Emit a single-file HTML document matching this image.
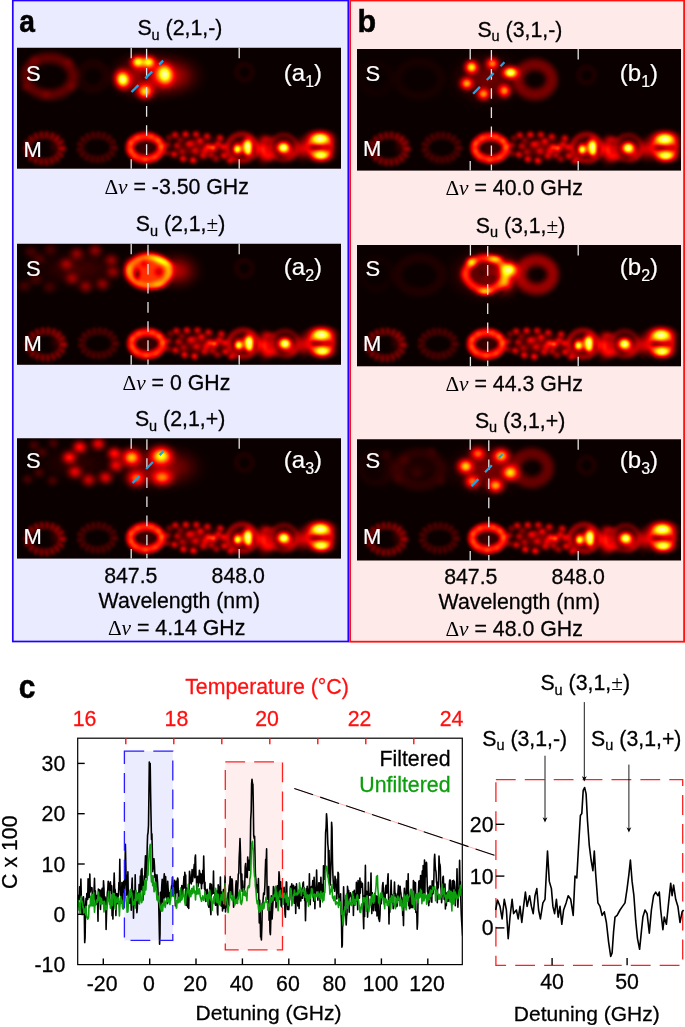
<!DOCTYPE html>
<html><head><meta charset="utf-8"><title>fig</title>
<style>html,body{margin:0;padding:0;background:#fff;}svg{display:block;will-change:transform;}text{font-family:"Liberation Sans",sans-serif;stroke:#000;stroke-width:.28px;}text[fill="#fff"]{stroke:#fff;stroke-width:.2px}text[fill="#ff1010"]{stroke:#ff1010}text[fill="#0c9e0c"]{stroke:#0c9e0c}text[font-weight="bold"]{stroke-width:.5px}.se{font-family:"Liberation Serif",serif;stroke:none;}</style>
</head><body>
<svg width="685" height="1027" viewBox="0 0 685 1027">
<defs>
<radialGradient id="g"><stop offset="0" stop-color="#fff" stop-opacity="1"/><stop offset=".2" stop-color="#fff" stop-opacity=".85"/><stop offset=".4" stop-color="#fff" stop-opacity=".53"/><stop offset=".6" stop-color="#fff" stop-opacity=".24"/><stop offset=".8" stop-color="#fff" stop-opacity=".07"/><stop offset="1" stop-color="#fff" stop-opacity="0"/></radialGradient>
<radialGradient id="k"><stop offset="0" stop-color="#000" stop-opacity="1"/><stop offset=".2" stop-color="#000" stop-opacity=".85"/><stop offset=".4" stop-color="#000" stop-opacity=".53"/><stop offset=".6" stop-color="#000" stop-opacity=".24"/><stop offset=".8" stop-color="#000" stop-opacity=".07"/><stop offset="1" stop-color="#000" stop-opacity="0"/></radialGradient>
<filter id="hot" x="0" y="0" width="324" height="122" filterUnits="userSpaceOnUse" color-interpolation-filters="sRGB"><feGaussianBlur stdDeviation="0.9"/><feComponentTransfer><feFuncR type="table" tableValues="0.042 0.107 0.173 0.239 0.304 0.370 0.435 0.501 0.567 0.632 0.698 0.764 0.829 0.895 0.961 1.000 1.000 1.000 1.000 1.000 1.000 1.000 1.000 1.000 1.000 1.000 1.000 1.000 1.000 1.000 1.000 1.000 1.000 1.000 1.000 1.000 1.000 1.000 1.000 1.000 1.000"/><feFuncG type="table" tableValues="0.000 0.000 0.000 0.000 0.000 0.000 0.000 0.000 0.000 0.000 0.000 0.000 0.000 0.000 0.000 0.026 0.092 0.157 0.223 0.289 0.354 0.420 0.486 0.551 0.617 0.682 0.748 0.814 0.879 0.945 1.000 1.000 1.000 1.000 1.000 1.000 1.000 1.000 1.000 1.000 1.000"/><feFuncB type="table" tableValues="0.000 0.000 0.000 0.000 0.000 0.000 0.000 0.000 0.000 0.000 0.000 0.000 0.000 0.000 0.000 0.000 0.000 0.000 0.000 0.000 0.000 0.000 0.000 0.000 0.000 0.000 0.000 0.000 0.000 0.000 0.016 0.114 0.213 0.311 0.409 0.508 0.606 0.705 0.803 0.902 1.000"/></feComponentTransfer></filter>
<filter id="b1" x="-50%" y="-50%" width="200%" height="200%" color-interpolation-filters="sRGB"><feGaussianBlur stdDeviation="0.8"/></filter>
<filter id="b2" x="-50%" y="-50%" width="200%" height="200%" color-interpolation-filters="sRGB"><feGaussianBlur stdDeviation="1.5"/></filter>
<filter id="b3" x="-50%" y="-50%" width="200%" height="200%" color-interpolation-filters="sRGB"><feGaussianBlur stdDeviation="2.5"/></filter>
<filter id="b4" x="-50%" y="-50%" width="200%" height="200%" color-interpolation-filters="sRGB"><feGaussianBlur stdDeviation="4"/></filter>
<clipPath id="ic"><rect x="0" y="0" width="324" height="122"/></clipPath>
</defs>
<rect x="12.8" y="0.5" width="335.5" height="641" fill="#ebebff" stroke="#2200ff" stroke-width="1.7"/>
<rect x="350.1" y="0.5" width="334" height="641.2" fill="#ffeaea" stroke="#ff1212" stroke-width="1.8"/>
<g transform="translate(17.0 47.8)">
<g clip-path="url(#ic)"><g filter="url(#hot)"><rect x="-5" y="-5" width="334" height="132" fill="#000"/>
<ellipse cx="32.5" cy="28.5" rx="23.5" ry="18.5" fill="none" stroke="#fff" stroke-width="10.0" opacity="0.13" filter="url(#b3)"/>
<ellipse cx="8.0" cy="40.0" rx="8.8" ry="7.7" fill="url(#g)" opacity="0.06"/>
<ellipse cx="29.0" cy="47.0" rx="8.8" ry="7.7" fill="url(#g)" opacity="0.06"/>
<ellipse cx="56.0" cy="39.0" rx="8.8" ry="7.7" fill="url(#g)" opacity="0.06"/>
<ellipse cx="52.0" cy="14.0" rx="8.8" ry="7.7" fill="url(#g)" opacity="0.06"/>
<ellipse cx="17.0" cy="12.0" rx="8.8" ry="7.7" fill="url(#g)" opacity="0.06"/>
<ellipse cx="75.9" cy="28.5" rx="13.0" ry="13.0" fill="none" stroke="#fff" stroke-width="8.0" opacity="0.03" filter="url(#b3)"/>
<ellipse cx="132.0" cy="28.0" rx="45.9" ry="29.7" fill="url(#g)" opacity="0.36"/>
<ellipse cx="160.0" cy="28.0" rx="33.6" ry="26.6" fill="url(#g)" opacity="0.18"/>
<ellipse cx="127.0" cy="29.0" rx="15.4" ry="13.2" fill="url(#k)" opacity="0.60"/>
<ellipse cx="121.0" cy="14.1" rx="11.4" ry="10.1" fill="url(#g)" opacity="0.85"/>
<ellipse cx="131.5" cy="14.3" rx="11.9" ry="10.1" fill="url(#g)" opacity="0.82"/>
<ellipse cx="105.7" cy="31.7" rx="12.8" ry="15.0" fill="url(#g)" opacity="0.96" transform="rotate(-15.0 105.7 31.7)"/>
<ellipse cx="147.8" cy="26.6" rx="13.6" ry="17.2" fill="url(#g)" opacity="0.96" transform="rotate(-10.0 147.8 26.6)"/>
<ellipse cx="128.0" cy="43.8" rx="13.2" ry="11.9" fill="url(#g)" opacity="0.72"/>
<ellipse cx="227.3" cy="24.4" rx="8.0" ry="8.0" fill="none" stroke="#fff" stroke-width="5.0" opacity="0.03" filter="url(#b2)"/>
<g transform="translate(0.1 0)">
<ellipse cx="27.3" cy="100.6" rx="17.3" ry="13.2" fill="none" stroke="#fff" stroke-width="7.0" opacity="0.06" filter="url(#b2)"/>
<ellipse cx="27.3" cy="100.6" rx="17.6" ry="13.4" fill="none" stroke="#fff" stroke-width="7.5" opacity="0.20" filter="url(#b1)" stroke-dasharray="2.12 3.18"/>
<ellipse cx="39.0" cy="97.0" rx="11.0" ry="17.6" fill="url(#g)" opacity="0.07"/>
<ellipse cx="79.9" cy="99.5" rx="16.5" ry="12.0" fill="none" stroke="#fff" stroke-width="7.0" opacity="0.04" filter="url(#b2)"/>
<ellipse cx="79.9" cy="99.5" rx="16.8" ry="12.3" fill="none" stroke="#fff" stroke-width="7.5" opacity="0.11" filter="url(#b1)" stroke-dasharray="2.12 3.18"/>
<ellipse cx="128.5" cy="99.8" rx="15.8" ry="11.4" fill="none" stroke="#fff" stroke-width="8.0" opacity="0.41" filter="url(#b2)"/>
<ellipse cx="128.5" cy="100.0" rx="21.0" ry="15.0" fill="url(#g)" opacity="0.08"/>
<ellipse cx="113.5" cy="95.0" rx="5.3" ry="5.3" fill="url(#g)" opacity="0.16"/>
<ellipse cx="114.0" cy="103.0" rx="5.3" ry="5.3" fill="url(#g)" opacity="0.14"/>
<ellipse cx="141.0" cy="92.5" rx="5.3" ry="5.3" fill="url(#g)" opacity="0.18"/>
<ellipse cx="144.0" cy="99.0" rx="5.3" ry="5.3" fill="url(#g)" opacity="0.20"/>
<ellipse cx="134.0" cy="88.0" rx="5.3" ry="5.3" fill="url(#g)" opacity="0.12"/>
<ellipse cx="128.0" cy="112.0" rx="5.3" ry="5.3" fill="url(#g)" opacity="0.14"/>
<ellipse cx="138.0" cy="110.0" rx="5.3" ry="5.3" fill="url(#g)" opacity="0.10"/>
<ellipse cx="120.0" cy="89.5" rx="5.3" ry="5.3" fill="url(#g)" opacity="0.12"/>
<ellipse cx="117.0" cy="108.0" rx="5.3" ry="5.3" fill="url(#g)" opacity="0.10"/>
<ellipse cx="158.0" cy="87.0" rx="6.2" ry="5.7" fill="url(#g)" opacity="0.36"/>
<ellipse cx="168.5" cy="86.5" rx="6.2" ry="5.7" fill="url(#g)" opacity="0.40"/>
<ellipse cx="179.0" cy="86.5" rx="6.2" ry="5.7" fill="url(#g)" opacity="0.36"/>
<ellipse cx="190.0" cy="88.5" rx="6.2" ry="5.7" fill="url(#g)" opacity="0.36"/>
<ellipse cx="160.0" cy="98.0" rx="6.2" ry="5.7" fill="url(#g)" opacity="0.26"/>
<ellipse cx="172.0" cy="96.0" rx="6.2" ry="5.7" fill="url(#g)" opacity="0.30"/>
<ellipse cx="183.0" cy="93.0" rx="6.2" ry="5.7" fill="url(#g)" opacity="0.34"/>
<ellipse cx="196.0" cy="100.0" rx="6.2" ry="5.7" fill="url(#g)" opacity="0.50"/>
<ellipse cx="157.0" cy="106.5" rx="6.2" ry="5.7" fill="url(#g)" opacity="0.36"/>
<ellipse cx="166.0" cy="111.0" rx="6.2" ry="5.7" fill="url(#g)" opacity="0.41"/>
<ellipse cx="176.0" cy="112.5" rx="6.2" ry="5.7" fill="url(#g)" opacity="0.43"/>
<ellipse cx="186.0" cy="108.0" rx="6.2" ry="5.7" fill="url(#g)" opacity="0.30"/>
<ellipse cx="203.0" cy="90.0" rx="6.2" ry="5.7" fill="url(#g)" opacity="0.36"/>
<ellipse cx="207.0" cy="108.0" rx="6.2" ry="5.7" fill="url(#g)" opacity="0.36"/>
<ellipse cx="199.0" cy="111.0" rx="6.2" ry="5.7" fill="url(#g)" opacity="0.24"/>
<ellipse cx="150.0" cy="97.0" rx="6.2" ry="5.7" fill="url(#g)" opacity="0.24"/>
<ellipse cx="191.0" cy="99.0" rx="6.2" ry="5.7" fill="url(#g)" opacity="0.36"/>
<ellipse cx="152.0" cy="90.0" rx="6.2" ry="5.7" fill="url(#g)" opacity="0.18"/>
<ellipse cx="165.0" cy="104.0" rx="6.2" ry="5.7" fill="url(#g)" opacity="0.22"/>
<ellipse cx="178.0" cy="103.0" rx="6.2" ry="5.7" fill="url(#g)" opacity="0.24"/>
<ellipse cx="188.0" cy="103.0" rx="6.2" ry="5.7" fill="url(#g)" opacity="0.26"/>
<ellipse cx="201.0" cy="96.0" rx="6.2" ry="5.7" fill="url(#g)" opacity="0.30"/>
<ellipse cx="150.0" cy="105.0" rx="6.2" ry="5.7" fill="url(#g)" opacity="0.18"/>
<ellipse cx="176.0" cy="95.0" rx="6.2" ry="5.7" fill="url(#g)" opacity="0.14"/>
<ellipse cx="163.0" cy="92.0" rx="6.2" ry="5.7" fill="url(#g)" opacity="0.18"/>
<ellipse cx="194.0" cy="107.0" rx="6.2" ry="5.7" fill="url(#g)" opacity="0.24"/>
<ellipse cx="206.0" cy="99.0" rx="6.2" ry="5.7" fill="url(#g)" opacity="0.30"/>
<ellipse cx="180.0" cy="100.0" rx="42.0" ry="18.2" fill="url(#g)" opacity="0.15"/>
<ellipse cx="240.0" cy="101.0" rx="91.0" ry="14.3" fill="url(#g)" opacity="0.14"/>
<ellipse cx="225.0" cy="99.6" rx="14.5" ry="13.5" fill="none" stroke="#fff" stroke-width="5.0" opacity="0.22" filter="url(#b2)"/>
<ellipse cx="225.0" cy="100.0" rx="18.0" ry="16.5" fill="url(#g)" opacity="0.22"/>
<ellipse cx="225.5" cy="92.0" rx="11.0" ry="4.8" fill="url(#k)" opacity="0.40"/>
<ellipse cx="214.5" cy="100.0" rx="4.8" ry="11.0" fill="url(#k)" opacity="0.45"/>
<ellipse cx="236.8" cy="102.0" rx="4.8" ry="11.0" fill="url(#k)" opacity="0.45"/>
<ellipse cx="220.2" cy="101.4" rx="7.0" ry="7.9" fill="url(#g)" opacity="0.90"/>
<ellipse cx="230.6" cy="97.8" rx="8.4" ry="12.3" fill="url(#g)" opacity="1.00"/>
<ellipse cx="231.0" cy="103.5" rx="6.2" ry="7.5" fill="url(#g)" opacity="0.70"/>
<ellipse cx="213.0" cy="113.0" rx="6.6" ry="5.5" fill="url(#g)" opacity="0.35"/>
<ellipse cx="246.0" cy="102.0" rx="11.0" ry="19.8" fill="url(#g)" opacity="0.34"/>
<ellipse cx="252.0" cy="109.0" rx="11.0" ry="8.8" fill="url(#g)" opacity="0.30"/>
<ellipse cx="250.0" cy="91.0" rx="11.0" ry="6.6" fill="url(#g)" opacity="0.22"/>
<ellipse cx="266.5" cy="99.6" rx="13.0" ry="12.5" fill="none" stroke="#fff" stroke-width="5.0" opacity="0.15" filter="url(#b2)"/>
<ellipse cx="266.5" cy="100.0" rx="11.7" ry="11.7" fill="url(#k)" opacity="0.40"/>
<ellipse cx="266.4" cy="99.8" rx="11.4" ry="10.1" fill="url(#g)" opacity="1.00"/>
<ellipse cx="272.0" cy="106.0" rx="13.2" ry="11.0" fill="url(#g)" opacity="0.20"/>
<ellipse cx="302.0" cy="99.5" rx="24.0" ry="19.2" fill="url(#g)" opacity="0.36"/>
<ellipse cx="285.0" cy="101.0" rx="11.0" ry="17.6" fill="url(#g)" opacity="0.24"/>
<ellipse cx="302.6" cy="99.2" rx="12.0" ry="8.0" fill="none" stroke="#fff" stroke-width="5.0" opacity="0.20" filter="url(#b2)"/>
<ellipse cx="300.5" cy="99.4" rx="14.3" ry="4.8" fill="url(#k)" opacity="0.85"/>
<ellipse cx="303.0" cy="90.6" rx="19.4" ry="11.4" fill="url(#g)" opacity="0.97"/>
<ellipse cx="304.0" cy="107.6" rx="16.5" ry="9.2" fill="url(#g)" opacity="0.88"/>
</g>
</g></g>
<rect x="0" y="120.9" width="324" height="2.1" fill="#ebebff"/>
</g>
<line x1="131.2" y1="47.8" x2="131.2" y2="58.3" stroke="#e4e4e4" stroke-width="1.3"/>
<line x1="131.2" y1="159.2" x2="131.2" y2="168.7" stroke="#e4e4e4" stroke-width="1.3"/>
<line x1="239.2" y1="47.8" x2="239.2" y2="58.3" stroke="#e4e4e4" stroke-width="1.3"/>
<line x1="239.2" y1="159.2" x2="239.2" y2="168.7" stroke="#e4e4e4" stroke-width="1.3"/>
<line x1="146.6" y1="48.8" x2="146.6" y2="168.7" stroke="#e4e4e4" stroke-width="1.3" stroke-dasharray="10.6 8.5"/>
<line x1="131.5" y1="92.0" x2="163.1" y2="60.6" stroke="#1aa7ea" stroke-width="2.3" stroke-dasharray="9.7 9.7"/>
<text x="26.0" y="81.1" font-size="22" fill="#fff">S</text>
<text x="23.5" y="157.0" font-size="22" fill="#fff">M</text>
<text x="283.8" y="80.5" font-size="24" fill="#fff">(a<tspan font-size="16" dy="6.2">1</tspan><tspan dy="-6.2">)</tspan></text>
<g transform="translate(17.0 243.8)">
<g clip-path="url(#ic)"><g filter="url(#hot)"><rect x="-5" y="-5" width="334" height="132" fill="#000"/>
<ellipse cx="49.4" cy="20.3" rx="11.4" ry="10.1" fill="url(#g)" opacity="0.20"/>
<ellipse cx="59.8" cy="9.9" rx="11.4" ry="10.1" fill="url(#g)" opacity="0.20"/>
<ellipse cx="78.3" cy="6.7" rx="11.4" ry="10.1" fill="url(#g)" opacity="0.20"/>
<ellipse cx="55.0" cy="34.8" rx="11.4" ry="10.1" fill="url(#g)" opacity="0.20"/>
<ellipse cx="68.7" cy="42.8" rx="11.4" ry="10.1" fill="url(#g)" opacity="0.20"/>
<ellipse cx="85.5" cy="40.4" rx="11.4" ry="10.1" fill="url(#g)" opacity="0.20"/>
<ellipse cx="94.4" cy="16.3" rx="11.4" ry="10.1" fill="url(#g)" opacity="0.20"/>
<ellipse cx="96.0" cy="28.2" rx="11.4" ry="10.1" fill="url(#g)" opacity="0.20"/>
<ellipse cx="18.9" cy="35.6" rx="11.4" ry="10.1" fill="url(#g)" opacity="0.09"/>
<ellipse cx="32.5" cy="43.6" rx="11.4" ry="10.1" fill="url(#g)" opacity="0.09"/>
<ellipse cx="7.6" cy="42.2" rx="11.4" ry="10.1" fill="url(#g)" opacity="0.09"/>
<ellipse cx="14.0" cy="8.0" rx="11.4" ry="10.1" fill="url(#g)" opacity="0.09"/>
<ellipse cx="33.3" cy="5.9" rx="11.4" ry="10.1" fill="url(#g)" opacity="0.09"/>
<ellipse cx="22.0" cy="15.0" rx="11.4" ry="10.1" fill="url(#g)" opacity="0.09"/>
<ellipse cx="62.0" cy="25.0" rx="62.4" ry="26.0" fill="url(#g)" opacity="0.08"/>
<ellipse cx="160.0" cy="27.0" rx="29.9" ry="23.4" fill="url(#g)" opacity="0.26"/>
<ellipse cx="132.0" cy="27.5" rx="23.5" ry="17.5" fill="#fff" opacity="0.44" filter="url(#b3)"/>
<ellipse cx="132.0" cy="27.5" rx="20.5" ry="15.0" fill="none" stroke="#fff" stroke-width="6.0" opacity="0.26" filter="url(#b2)"/>
<ellipse cx="120.1" cy="30.2" rx="5.4" ry="9.4" fill="url(#k)" opacity="0.75"/>
<ellipse cx="142.0" cy="28.0" rx="8.1" ry="8.1" fill="url(#k)" opacity="0.45"/>
<ellipse cx="127.0" cy="20.0" rx="6.6" ry="6.6" fill="url(#k)" opacity="0.25"/>
<ellipse cx="143.5" cy="16.9" rx="20.9" ry="6.2" fill="url(#g)" opacity="0.55" transform="rotate(21.0 143.5 16.9)"/>
<ellipse cx="141.8" cy="41.0" rx="13.2" ry="7.0" fill="url(#g)" opacity="0.25"/>
<ellipse cx="110.8" cy="25.0" rx="7.0" ry="15.4" fill="url(#g)" opacity="0.20"/>
<ellipse cx="227.3" cy="24.4" rx="8.0" ry="8.0" fill="none" stroke="#fff" stroke-width="5.0" opacity="0.03" filter="url(#b2)"/>
<g transform="translate(1.5 0)">
<ellipse cx="27.3" cy="100.6" rx="17.3" ry="13.2" fill="none" stroke="#fff" stroke-width="7.0" opacity="0.06" filter="url(#b2)"/>
<ellipse cx="27.3" cy="100.6" rx="17.6" ry="13.4" fill="none" stroke="#fff" stroke-width="7.5" opacity="0.20" filter="url(#b1)" stroke-dasharray="2.12 3.18"/>
<ellipse cx="39.0" cy="97.0" rx="11.0" ry="17.6" fill="url(#g)" opacity="0.07"/>
<ellipse cx="79.9" cy="99.5" rx="16.5" ry="12.0" fill="none" stroke="#fff" stroke-width="7.0" opacity="0.04" filter="url(#b2)"/>
<ellipse cx="79.9" cy="99.5" rx="16.8" ry="12.3" fill="none" stroke="#fff" stroke-width="7.5" opacity="0.11" filter="url(#b1)" stroke-dasharray="2.12 3.18"/>
<ellipse cx="128.5" cy="99.8" rx="15.8" ry="11.4" fill="none" stroke="#fff" stroke-width="8.0" opacity="0.41" filter="url(#b2)"/>
<ellipse cx="128.5" cy="100.0" rx="21.0" ry="15.0" fill="url(#g)" opacity="0.08"/>
<ellipse cx="113.5" cy="95.0" rx="5.3" ry="5.3" fill="url(#g)" opacity="0.16"/>
<ellipse cx="114.0" cy="103.0" rx="5.3" ry="5.3" fill="url(#g)" opacity="0.14"/>
<ellipse cx="141.0" cy="92.5" rx="5.3" ry="5.3" fill="url(#g)" opacity="0.18"/>
<ellipse cx="144.0" cy="99.0" rx="5.3" ry="5.3" fill="url(#g)" opacity="0.20"/>
<ellipse cx="134.0" cy="88.0" rx="5.3" ry="5.3" fill="url(#g)" opacity="0.12"/>
<ellipse cx="128.0" cy="112.0" rx="5.3" ry="5.3" fill="url(#g)" opacity="0.14"/>
<ellipse cx="138.0" cy="110.0" rx="5.3" ry="5.3" fill="url(#g)" opacity="0.10"/>
<ellipse cx="120.0" cy="89.5" rx="5.3" ry="5.3" fill="url(#g)" opacity="0.12"/>
<ellipse cx="117.0" cy="108.0" rx="5.3" ry="5.3" fill="url(#g)" opacity="0.10"/>
<ellipse cx="158.0" cy="87.0" rx="6.2" ry="5.7" fill="url(#g)" opacity="0.36"/>
<ellipse cx="168.5" cy="86.5" rx="6.2" ry="5.7" fill="url(#g)" opacity="0.40"/>
<ellipse cx="179.0" cy="86.5" rx="6.2" ry="5.7" fill="url(#g)" opacity="0.36"/>
<ellipse cx="190.0" cy="88.5" rx="6.2" ry="5.7" fill="url(#g)" opacity="0.36"/>
<ellipse cx="160.0" cy="98.0" rx="6.2" ry="5.7" fill="url(#g)" opacity="0.26"/>
<ellipse cx="172.0" cy="96.0" rx="6.2" ry="5.7" fill="url(#g)" opacity="0.30"/>
<ellipse cx="183.0" cy="93.0" rx="6.2" ry="5.7" fill="url(#g)" opacity="0.34"/>
<ellipse cx="196.0" cy="100.0" rx="6.2" ry="5.7" fill="url(#g)" opacity="0.50"/>
<ellipse cx="157.0" cy="106.5" rx="6.2" ry="5.7" fill="url(#g)" opacity="0.36"/>
<ellipse cx="166.0" cy="111.0" rx="6.2" ry="5.7" fill="url(#g)" opacity="0.41"/>
<ellipse cx="176.0" cy="112.5" rx="6.2" ry="5.7" fill="url(#g)" opacity="0.43"/>
<ellipse cx="186.0" cy="108.0" rx="6.2" ry="5.7" fill="url(#g)" opacity="0.30"/>
<ellipse cx="203.0" cy="90.0" rx="6.2" ry="5.7" fill="url(#g)" opacity="0.36"/>
<ellipse cx="207.0" cy="108.0" rx="6.2" ry="5.7" fill="url(#g)" opacity="0.36"/>
<ellipse cx="199.0" cy="111.0" rx="6.2" ry="5.7" fill="url(#g)" opacity="0.24"/>
<ellipse cx="150.0" cy="97.0" rx="6.2" ry="5.7" fill="url(#g)" opacity="0.24"/>
<ellipse cx="191.0" cy="99.0" rx="6.2" ry="5.7" fill="url(#g)" opacity="0.36"/>
<ellipse cx="152.0" cy="90.0" rx="6.2" ry="5.7" fill="url(#g)" opacity="0.18"/>
<ellipse cx="165.0" cy="104.0" rx="6.2" ry="5.7" fill="url(#g)" opacity="0.22"/>
<ellipse cx="178.0" cy="103.0" rx="6.2" ry="5.7" fill="url(#g)" opacity="0.24"/>
<ellipse cx="188.0" cy="103.0" rx="6.2" ry="5.7" fill="url(#g)" opacity="0.26"/>
<ellipse cx="201.0" cy="96.0" rx="6.2" ry="5.7" fill="url(#g)" opacity="0.30"/>
<ellipse cx="150.0" cy="105.0" rx="6.2" ry="5.7" fill="url(#g)" opacity="0.18"/>
<ellipse cx="176.0" cy="95.0" rx="6.2" ry="5.7" fill="url(#g)" opacity="0.14"/>
<ellipse cx="163.0" cy="92.0" rx="6.2" ry="5.7" fill="url(#g)" opacity="0.18"/>
<ellipse cx="194.0" cy="107.0" rx="6.2" ry="5.7" fill="url(#g)" opacity="0.24"/>
<ellipse cx="206.0" cy="99.0" rx="6.2" ry="5.7" fill="url(#g)" opacity="0.30"/>
<ellipse cx="180.0" cy="100.0" rx="42.0" ry="18.2" fill="url(#g)" opacity="0.15"/>
<ellipse cx="240.0" cy="101.0" rx="91.0" ry="14.3" fill="url(#g)" opacity="0.14"/>
<ellipse cx="225.0" cy="99.6" rx="14.5" ry="13.5" fill="none" stroke="#fff" stroke-width="5.0" opacity="0.22" filter="url(#b2)"/>
<ellipse cx="225.0" cy="100.0" rx="18.0" ry="16.5" fill="url(#g)" opacity="0.22"/>
<ellipse cx="225.5" cy="92.0" rx="11.0" ry="4.8" fill="url(#k)" opacity="0.40"/>
<ellipse cx="214.5" cy="100.0" rx="4.8" ry="11.0" fill="url(#k)" opacity="0.45"/>
<ellipse cx="236.8" cy="102.0" rx="4.8" ry="11.0" fill="url(#k)" opacity="0.45"/>
<ellipse cx="220.2" cy="101.4" rx="7.0" ry="7.9" fill="url(#g)" opacity="0.90"/>
<ellipse cx="230.6" cy="97.8" rx="8.4" ry="12.3" fill="url(#g)" opacity="1.00"/>
<ellipse cx="231.0" cy="103.5" rx="6.2" ry="7.5" fill="url(#g)" opacity="0.70"/>
<ellipse cx="213.0" cy="113.0" rx="6.6" ry="5.5" fill="url(#g)" opacity="0.35"/>
<ellipse cx="246.0" cy="102.0" rx="11.0" ry="19.8" fill="url(#g)" opacity="0.34"/>
<ellipse cx="252.0" cy="109.0" rx="11.0" ry="8.8" fill="url(#g)" opacity="0.30"/>
<ellipse cx="250.0" cy="91.0" rx="11.0" ry="6.6" fill="url(#g)" opacity="0.22"/>
<ellipse cx="266.5" cy="99.6" rx="13.0" ry="12.5" fill="none" stroke="#fff" stroke-width="5.0" opacity="0.15" filter="url(#b2)"/>
<ellipse cx="266.5" cy="100.0" rx="11.7" ry="11.7" fill="url(#k)" opacity="0.40"/>
<ellipse cx="266.4" cy="99.8" rx="11.4" ry="10.1" fill="url(#g)" opacity="1.00"/>
<ellipse cx="272.0" cy="106.0" rx="13.2" ry="11.0" fill="url(#g)" opacity="0.20"/>
<ellipse cx="302.0" cy="99.5" rx="24.0" ry="19.2" fill="url(#g)" opacity="0.36"/>
<ellipse cx="285.0" cy="101.0" rx="11.0" ry="17.6" fill="url(#g)" opacity="0.24"/>
<ellipse cx="302.6" cy="99.2" rx="12.0" ry="8.0" fill="none" stroke="#fff" stroke-width="5.0" opacity="0.20" filter="url(#b2)"/>
<ellipse cx="300.5" cy="99.4" rx="14.3" ry="4.8" fill="url(#k)" opacity="0.85"/>
<ellipse cx="303.0" cy="90.6" rx="19.4" ry="11.4" fill="url(#g)" opacity="0.97"/>
<ellipse cx="304.0" cy="107.6" rx="16.5" ry="9.2" fill="url(#g)" opacity="0.88"/>
</g>
</g></g>
<rect x="0" y="121.0" width="324" height="2.0" fill="#ebebff"/>
</g>
<line x1="131.2" y1="243.8" x2="131.2" y2="254.3" stroke="#e4e4e4" stroke-width="1.3"/>
<line x1="131.2" y1="355.3" x2="131.2" y2="364.8" stroke="#e4e4e4" stroke-width="1.3"/>
<line x1="239.2" y1="243.8" x2="239.2" y2="254.3" stroke="#e4e4e4" stroke-width="1.3"/>
<line x1="239.2" y1="355.3" x2="239.2" y2="364.8" stroke="#e4e4e4" stroke-width="1.3"/>
<line x1="148.0" y1="244.8" x2="148.0" y2="364.8" stroke="#e4e4e4" stroke-width="1.3" stroke-dasharray="10.6 8.5"/>
<text x="26.0" y="275.5" font-size="22" fill="#fff">S</text>
<text x="23.5" y="351.4" font-size="22" fill="#fff">M</text>
<text x="283.8" y="274.9" font-size="24" fill="#fff">(a<tspan font-size="16" dy="6.2">2</tspan><tspan dy="-6.2">)</tspan></text>
<g transform="translate(17.0 438.2)">
<g clip-path="url(#ic)"><g filter="url(#hot)"><rect x="-5" y="-5" width="334" height="132" fill="#000"/>
<ellipse cx="52.4" cy="19.3" rx="11.9" ry="10.6" fill="url(#g)" opacity="0.42"/>
<ellipse cx="62.8" cy="8.9" rx="11.9" ry="10.6" fill="url(#g)" opacity="0.42"/>
<ellipse cx="81.3" cy="5.7" rx="11.9" ry="10.6" fill="url(#g)" opacity="0.36"/>
<ellipse cx="58.0" cy="33.8" rx="11.9" ry="10.6" fill="url(#g)" opacity="0.34"/>
<ellipse cx="71.7" cy="41.8" rx="11.9" ry="10.6" fill="url(#g)" opacity="0.30"/>
<ellipse cx="88.5" cy="39.4" rx="11.9" ry="10.6" fill="url(#g)" opacity="0.34"/>
<ellipse cx="97.4" cy="15.3" rx="11.9" ry="10.6" fill="url(#g)" opacity="0.42"/>
<ellipse cx="99.0" cy="27.2" rx="11.9" ry="10.6" fill="url(#g)" opacity="0.36"/>
<ellipse cx="21.9" cy="34.6" rx="9.2" ry="8.4" fill="url(#g)" opacity="0.10"/>
<ellipse cx="35.5" cy="42.6" rx="9.2" ry="8.4" fill="url(#g)" opacity="0.10"/>
<ellipse cx="10.6" cy="41.2" rx="9.2" ry="8.4" fill="url(#g)" opacity="0.10"/>
<ellipse cx="17.0" cy="7.0" rx="9.2" ry="8.4" fill="url(#g)" opacity="0.10"/>
<ellipse cx="36.3" cy="4.9" rx="9.2" ry="8.4" fill="url(#g)" opacity="0.10"/>
<ellipse cx="25.0" cy="14.0" rx="9.2" ry="8.4" fill="url(#g)" opacity="0.10"/>
<ellipse cx="60.0" cy="25.0" rx="58.5" ry="26.0" fill="url(#g)" opacity="0.05"/>
<ellipse cx="135.0" cy="29.0" rx="48.0" ry="30.0" fill="url(#g)" opacity="0.16"/>
<ellipse cx="160.0" cy="29.0" rx="36.0" ry="27.0" fill="url(#g)" opacity="0.12"/>
<ellipse cx="114.5" cy="19.3" rx="15.8" ry="14.1" fill="url(#g)" opacity="0.68"/>
<ellipse cx="144.2" cy="17.7" rx="18.0" ry="15.0" fill="url(#g)" opacity="0.82"/>
<ellipse cx="119.3" cy="40.2" rx="15.4" ry="13.6" fill="url(#g)" opacity="0.52"/>
<ellipse cx="145.0" cy="39.4" rx="18.0" ry="13.2" fill="url(#g)" opacity="0.54"/>
<ellipse cx="227.3" cy="24.4" rx="8.0" ry="8.0" fill="none" stroke="#fff" stroke-width="5.0" opacity="0.03" filter="url(#b2)"/>
<g transform="translate(0.4 0)">
<ellipse cx="27.3" cy="100.6" rx="17.3" ry="13.2" fill="none" stroke="#fff" stroke-width="7.0" opacity="0.06" filter="url(#b2)"/>
<ellipse cx="27.3" cy="100.6" rx="17.6" ry="13.4" fill="none" stroke="#fff" stroke-width="7.5" opacity="0.20" filter="url(#b1)" stroke-dasharray="2.12 3.18"/>
<ellipse cx="39.0" cy="97.0" rx="11.0" ry="17.6" fill="url(#g)" opacity="0.07"/>
<ellipse cx="79.9" cy="99.5" rx="16.5" ry="12.0" fill="none" stroke="#fff" stroke-width="7.0" opacity="0.04" filter="url(#b2)"/>
<ellipse cx="79.9" cy="99.5" rx="16.8" ry="12.3" fill="none" stroke="#fff" stroke-width="7.5" opacity="0.11" filter="url(#b1)" stroke-dasharray="2.12 3.18"/>
<ellipse cx="128.5" cy="99.8" rx="15.8" ry="11.4" fill="none" stroke="#fff" stroke-width="8.0" opacity="0.41" filter="url(#b2)"/>
<ellipse cx="128.5" cy="100.0" rx="21.0" ry="15.0" fill="url(#g)" opacity="0.08"/>
<ellipse cx="113.5" cy="95.0" rx="5.3" ry="5.3" fill="url(#g)" opacity="0.16"/>
<ellipse cx="114.0" cy="103.0" rx="5.3" ry="5.3" fill="url(#g)" opacity="0.14"/>
<ellipse cx="141.0" cy="92.5" rx="5.3" ry="5.3" fill="url(#g)" opacity="0.18"/>
<ellipse cx="144.0" cy="99.0" rx="5.3" ry="5.3" fill="url(#g)" opacity="0.20"/>
<ellipse cx="134.0" cy="88.0" rx="5.3" ry="5.3" fill="url(#g)" opacity="0.12"/>
<ellipse cx="128.0" cy="112.0" rx="5.3" ry="5.3" fill="url(#g)" opacity="0.14"/>
<ellipse cx="138.0" cy="110.0" rx="5.3" ry="5.3" fill="url(#g)" opacity="0.10"/>
<ellipse cx="120.0" cy="89.5" rx="5.3" ry="5.3" fill="url(#g)" opacity="0.12"/>
<ellipse cx="117.0" cy="108.0" rx="5.3" ry="5.3" fill="url(#g)" opacity="0.10"/>
<ellipse cx="158.0" cy="87.0" rx="6.2" ry="5.7" fill="url(#g)" opacity="0.36"/>
<ellipse cx="168.5" cy="86.5" rx="6.2" ry="5.7" fill="url(#g)" opacity="0.40"/>
<ellipse cx="179.0" cy="86.5" rx="6.2" ry="5.7" fill="url(#g)" opacity="0.36"/>
<ellipse cx="190.0" cy="88.5" rx="6.2" ry="5.7" fill="url(#g)" opacity="0.36"/>
<ellipse cx="160.0" cy="98.0" rx="6.2" ry="5.7" fill="url(#g)" opacity="0.26"/>
<ellipse cx="172.0" cy="96.0" rx="6.2" ry="5.7" fill="url(#g)" opacity="0.30"/>
<ellipse cx="183.0" cy="93.0" rx="6.2" ry="5.7" fill="url(#g)" opacity="0.34"/>
<ellipse cx="196.0" cy="100.0" rx="6.2" ry="5.7" fill="url(#g)" opacity="0.50"/>
<ellipse cx="157.0" cy="106.5" rx="6.2" ry="5.7" fill="url(#g)" opacity="0.36"/>
<ellipse cx="166.0" cy="111.0" rx="6.2" ry="5.7" fill="url(#g)" opacity="0.41"/>
<ellipse cx="176.0" cy="112.5" rx="6.2" ry="5.7" fill="url(#g)" opacity="0.43"/>
<ellipse cx="186.0" cy="108.0" rx="6.2" ry="5.7" fill="url(#g)" opacity="0.30"/>
<ellipse cx="203.0" cy="90.0" rx="6.2" ry="5.7" fill="url(#g)" opacity="0.36"/>
<ellipse cx="207.0" cy="108.0" rx="6.2" ry="5.7" fill="url(#g)" opacity="0.36"/>
<ellipse cx="199.0" cy="111.0" rx="6.2" ry="5.7" fill="url(#g)" opacity="0.24"/>
<ellipse cx="150.0" cy="97.0" rx="6.2" ry="5.7" fill="url(#g)" opacity="0.24"/>
<ellipse cx="191.0" cy="99.0" rx="6.2" ry="5.7" fill="url(#g)" opacity="0.36"/>
<ellipse cx="152.0" cy="90.0" rx="6.2" ry="5.7" fill="url(#g)" opacity="0.18"/>
<ellipse cx="165.0" cy="104.0" rx="6.2" ry="5.7" fill="url(#g)" opacity="0.22"/>
<ellipse cx="178.0" cy="103.0" rx="6.2" ry="5.7" fill="url(#g)" opacity="0.24"/>
<ellipse cx="188.0" cy="103.0" rx="6.2" ry="5.7" fill="url(#g)" opacity="0.26"/>
<ellipse cx="201.0" cy="96.0" rx="6.2" ry="5.7" fill="url(#g)" opacity="0.30"/>
<ellipse cx="150.0" cy="105.0" rx="6.2" ry="5.7" fill="url(#g)" opacity="0.18"/>
<ellipse cx="176.0" cy="95.0" rx="6.2" ry="5.7" fill="url(#g)" opacity="0.14"/>
<ellipse cx="163.0" cy="92.0" rx="6.2" ry="5.7" fill="url(#g)" opacity="0.18"/>
<ellipse cx="194.0" cy="107.0" rx="6.2" ry="5.7" fill="url(#g)" opacity="0.24"/>
<ellipse cx="206.0" cy="99.0" rx="6.2" ry="5.7" fill="url(#g)" opacity="0.30"/>
<ellipse cx="180.0" cy="100.0" rx="42.0" ry="18.2" fill="url(#g)" opacity="0.15"/>
<ellipse cx="240.0" cy="101.0" rx="91.0" ry="14.3" fill="url(#g)" opacity="0.14"/>
<ellipse cx="225.0" cy="99.6" rx="14.5" ry="13.5" fill="none" stroke="#fff" stroke-width="5.0" opacity="0.22" filter="url(#b2)"/>
<ellipse cx="225.0" cy="100.0" rx="18.0" ry="16.5" fill="url(#g)" opacity="0.22"/>
<ellipse cx="225.5" cy="92.0" rx="11.0" ry="4.8" fill="url(#k)" opacity="0.40"/>
<ellipse cx="214.5" cy="100.0" rx="4.8" ry="11.0" fill="url(#k)" opacity="0.45"/>
<ellipse cx="236.8" cy="102.0" rx="4.8" ry="11.0" fill="url(#k)" opacity="0.45"/>
<ellipse cx="220.2" cy="101.4" rx="7.0" ry="7.9" fill="url(#g)" opacity="0.90"/>
<ellipse cx="230.6" cy="97.8" rx="8.4" ry="12.3" fill="url(#g)" opacity="1.00"/>
<ellipse cx="231.0" cy="103.5" rx="6.2" ry="7.5" fill="url(#g)" opacity="0.70"/>
<ellipse cx="213.0" cy="113.0" rx="6.6" ry="5.5" fill="url(#g)" opacity="0.35"/>
<ellipse cx="246.0" cy="102.0" rx="11.0" ry="19.8" fill="url(#g)" opacity="0.34"/>
<ellipse cx="252.0" cy="109.0" rx="11.0" ry="8.8" fill="url(#g)" opacity="0.30"/>
<ellipse cx="250.0" cy="91.0" rx="11.0" ry="6.6" fill="url(#g)" opacity="0.22"/>
<ellipse cx="266.5" cy="99.6" rx="13.0" ry="12.5" fill="none" stroke="#fff" stroke-width="5.0" opacity="0.15" filter="url(#b2)"/>
<ellipse cx="266.5" cy="100.0" rx="11.7" ry="11.7" fill="url(#k)" opacity="0.40"/>
<ellipse cx="266.4" cy="99.8" rx="11.4" ry="10.1" fill="url(#g)" opacity="1.00"/>
<ellipse cx="272.0" cy="106.0" rx="13.2" ry="11.0" fill="url(#g)" opacity="0.20"/>
<ellipse cx="302.0" cy="99.5" rx="24.0" ry="19.2" fill="url(#g)" opacity="0.36"/>
<ellipse cx="285.0" cy="101.0" rx="11.0" ry="17.6" fill="url(#g)" opacity="0.24"/>
<ellipse cx="302.6" cy="99.2" rx="12.0" ry="8.0" fill="none" stroke="#fff" stroke-width="5.0" opacity="0.20" filter="url(#b2)"/>
<ellipse cx="300.5" cy="99.4" rx="14.3" ry="4.8" fill="url(#k)" opacity="0.85"/>
<ellipse cx="303.0" cy="90.6" rx="19.4" ry="11.4" fill="url(#g)" opacity="0.97"/>
<ellipse cx="304.0" cy="107.6" rx="16.5" ry="9.2" fill="url(#g)" opacity="0.88"/>
</g>
</g></g>
<rect x="0" y="120.4" width="324" height="2.6" fill="#ebebff"/>
</g>
<line x1="131.2" y1="438.2" x2="131.2" y2="448.7" stroke="#e4e4e4" stroke-width="1.3"/>
<line x1="131.2" y1="549.1" x2="131.2" y2="558.6" stroke="#e4e4e4" stroke-width="1.3"/>
<line x1="239.2" y1="438.2" x2="239.2" y2="448.7" stroke="#e4e4e4" stroke-width="1.3"/>
<line x1="239.2" y1="549.1" x2="239.2" y2="558.6" stroke="#e4e4e4" stroke-width="1.3"/>
<line x1="146.9" y1="439.2" x2="146.9" y2="558.6" stroke="#e4e4e4" stroke-width="1.3" stroke-dasharray="10.6 8.5"/>
<line x1="132.6" y1="482.9" x2="163.6" y2="451.0" stroke="#1aa7ea" stroke-width="2.3" stroke-dasharray="9.7 9.7"/>
<text x="26.0" y="468.2" font-size="22" fill="#fff">S</text>
<text x="23.5" y="544.1" font-size="22" fill="#fff">M</text>
<text x="283.8" y="467.6" font-size="24" fill="#fff">(a<tspan font-size="16" dy="6.2">3</tspan><tspan dy="-6.2">)</tspan></text>
<g transform="translate(357.0 49.0)">
<g clip-path="url(#ic)"><g filter="url(#hot)"><rect x="-5" y="-5" width="334" height="132" fill="#000"/>
<ellipse cx="62.5" cy="30.0" rx="22.0" ry="17.0" fill="none" stroke="#fff" stroke-width="9.0" opacity="0.02" filter="url(#b3)"/>
<ellipse cx="19.0" cy="29.0" rx="15.0" ry="15.0" fill="none" stroke="#fff" stroke-width="8.0" opacity="0.01" filter="url(#b3)"/>
<ellipse cx="130.0" cy="30.0" rx="45.0" ry="33.0" fill="url(#g)" opacity="0.16"/>
<ellipse cx="177.9" cy="30.5" rx="17.0" ry="15.0" fill="none" stroke="#fff" stroke-width="11.0" opacity="0.17" filter="url(#b3)"/>
<ellipse cx="114.5" cy="18.2" rx="10.8" ry="10.8" fill="url(#g)" opacity="0.80"/>
<ellipse cx="135.4" cy="14.5" rx="10.8" ry="10.1" fill="url(#g)" opacity="0.58"/>
<ellipse cx="153.5" cy="23.6" rx="12.8" ry="9.9" fill="url(#g)" opacity="0.98"/>
<ellipse cx="147.4" cy="41.8" rx="10.8" ry="11.0" fill="url(#g)" opacity="0.62"/>
<ellipse cx="126.5" cy="45.0" rx="10.8" ry="10.1" fill="url(#g)" opacity="0.62"/>
<ellipse cx="109.7" cy="34.5" rx="11.0" ry="10.1" fill="url(#g)" opacity="0.66"/>
<ellipse cx="229.6" cy="26.0" rx="8.0" ry="8.0" fill="none" stroke="#fff" stroke-width="5.0" opacity="0.03" filter="url(#b2)"/>
<g transform="translate(4.9 0)">
<ellipse cx="27.3" cy="99.8" rx="17.3" ry="13.2" fill="none" stroke="#fff" stroke-width="7.0" opacity="0.06" filter="url(#b2)"/>
<ellipse cx="27.3" cy="99.8" rx="17.6" ry="13.4" fill="none" stroke="#fff" stroke-width="7.5" opacity="0.20" filter="url(#b1)" stroke-dasharray="2.12 3.18"/>
<ellipse cx="39.0" cy="96.2" rx="11.0" ry="17.6" fill="url(#g)" opacity="0.07"/>
<ellipse cx="79.9" cy="98.7" rx="16.5" ry="12.0" fill="none" stroke="#fff" stroke-width="7.0" opacity="0.04" filter="url(#b2)"/>
<ellipse cx="79.9" cy="98.7" rx="16.8" ry="12.3" fill="none" stroke="#fff" stroke-width="7.5" opacity="0.11" filter="url(#b1)" stroke-dasharray="2.12 3.18"/>
<ellipse cx="128.5" cy="99.0" rx="15.8" ry="11.4" fill="none" stroke="#fff" stroke-width="8.0" opacity="0.41" filter="url(#b2)"/>
<ellipse cx="128.5" cy="99.2" rx="21.0" ry="15.0" fill="url(#g)" opacity="0.08"/>
<ellipse cx="113.5" cy="94.2" rx="5.3" ry="5.3" fill="url(#g)" opacity="0.16"/>
<ellipse cx="114.0" cy="102.2" rx="5.3" ry="5.3" fill="url(#g)" opacity="0.14"/>
<ellipse cx="141.0" cy="91.7" rx="5.3" ry="5.3" fill="url(#g)" opacity="0.18"/>
<ellipse cx="144.0" cy="98.2" rx="5.3" ry="5.3" fill="url(#g)" opacity="0.20"/>
<ellipse cx="134.0" cy="87.2" rx="5.3" ry="5.3" fill="url(#g)" opacity="0.12"/>
<ellipse cx="128.0" cy="111.2" rx="5.3" ry="5.3" fill="url(#g)" opacity="0.14"/>
<ellipse cx="138.0" cy="109.2" rx="5.3" ry="5.3" fill="url(#g)" opacity="0.10"/>
<ellipse cx="120.0" cy="88.7" rx="5.3" ry="5.3" fill="url(#g)" opacity="0.12"/>
<ellipse cx="117.0" cy="107.2" rx="5.3" ry="5.3" fill="url(#g)" opacity="0.10"/>
<ellipse cx="158.0" cy="86.2" rx="6.2" ry="5.7" fill="url(#g)" opacity="0.36"/>
<ellipse cx="168.5" cy="85.7" rx="6.2" ry="5.7" fill="url(#g)" opacity="0.40"/>
<ellipse cx="179.0" cy="85.7" rx="6.2" ry="5.7" fill="url(#g)" opacity="0.36"/>
<ellipse cx="190.0" cy="87.7" rx="6.2" ry="5.7" fill="url(#g)" opacity="0.36"/>
<ellipse cx="160.0" cy="97.2" rx="6.2" ry="5.7" fill="url(#g)" opacity="0.26"/>
<ellipse cx="172.0" cy="95.2" rx="6.2" ry="5.7" fill="url(#g)" opacity="0.30"/>
<ellipse cx="183.0" cy="92.2" rx="6.2" ry="5.7" fill="url(#g)" opacity="0.34"/>
<ellipse cx="196.0" cy="99.2" rx="6.2" ry="5.7" fill="url(#g)" opacity="0.50"/>
<ellipse cx="157.0" cy="105.7" rx="6.2" ry="5.7" fill="url(#g)" opacity="0.36"/>
<ellipse cx="166.0" cy="110.2" rx="6.2" ry="5.7" fill="url(#g)" opacity="0.41"/>
<ellipse cx="176.0" cy="111.7" rx="6.2" ry="5.7" fill="url(#g)" opacity="0.43"/>
<ellipse cx="186.0" cy="107.2" rx="6.2" ry="5.7" fill="url(#g)" opacity="0.30"/>
<ellipse cx="203.0" cy="89.2" rx="6.2" ry="5.7" fill="url(#g)" opacity="0.36"/>
<ellipse cx="207.0" cy="107.2" rx="6.2" ry="5.7" fill="url(#g)" opacity="0.36"/>
<ellipse cx="199.0" cy="110.2" rx="6.2" ry="5.7" fill="url(#g)" opacity="0.24"/>
<ellipse cx="150.0" cy="96.2" rx="6.2" ry="5.7" fill="url(#g)" opacity="0.24"/>
<ellipse cx="191.0" cy="98.2" rx="6.2" ry="5.7" fill="url(#g)" opacity="0.36"/>
<ellipse cx="152.0" cy="89.2" rx="6.2" ry="5.7" fill="url(#g)" opacity="0.18"/>
<ellipse cx="165.0" cy="103.2" rx="6.2" ry="5.7" fill="url(#g)" opacity="0.22"/>
<ellipse cx="178.0" cy="102.2" rx="6.2" ry="5.7" fill="url(#g)" opacity="0.24"/>
<ellipse cx="188.0" cy="102.2" rx="6.2" ry="5.7" fill="url(#g)" opacity="0.26"/>
<ellipse cx="201.0" cy="95.2" rx="6.2" ry="5.7" fill="url(#g)" opacity="0.30"/>
<ellipse cx="150.0" cy="104.2" rx="6.2" ry="5.7" fill="url(#g)" opacity="0.18"/>
<ellipse cx="176.0" cy="94.2" rx="6.2" ry="5.7" fill="url(#g)" opacity="0.14"/>
<ellipse cx="163.0" cy="91.2" rx="6.2" ry="5.7" fill="url(#g)" opacity="0.18"/>
<ellipse cx="194.0" cy="106.2" rx="6.2" ry="5.7" fill="url(#g)" opacity="0.24"/>
<ellipse cx="206.0" cy="98.2" rx="6.2" ry="5.7" fill="url(#g)" opacity="0.30"/>
<ellipse cx="180.0" cy="99.2" rx="42.0" ry="18.2" fill="url(#g)" opacity="0.15"/>
<ellipse cx="240.0" cy="100.2" rx="91.0" ry="14.3" fill="url(#g)" opacity="0.14"/>
<ellipse cx="225.0" cy="98.8" rx="14.5" ry="13.5" fill="none" stroke="#fff" stroke-width="5.0" opacity="0.22" filter="url(#b2)"/>
<ellipse cx="225.0" cy="99.2" rx="18.0" ry="16.5" fill="url(#g)" opacity="0.22"/>
<ellipse cx="225.5" cy="91.2" rx="11.0" ry="4.8" fill="url(#k)" opacity="0.40"/>
<ellipse cx="214.5" cy="99.2" rx="4.8" ry="11.0" fill="url(#k)" opacity="0.45"/>
<ellipse cx="236.8" cy="101.2" rx="4.8" ry="11.0" fill="url(#k)" opacity="0.45"/>
<ellipse cx="220.2" cy="100.6" rx="7.0" ry="7.9" fill="url(#g)" opacity="0.90"/>
<ellipse cx="230.6" cy="97.0" rx="8.4" ry="12.3" fill="url(#g)" opacity="1.00"/>
<ellipse cx="231.0" cy="102.7" rx="6.2" ry="7.5" fill="url(#g)" opacity="0.70"/>
<ellipse cx="213.0" cy="112.2" rx="6.6" ry="5.5" fill="url(#g)" opacity="0.35"/>
<ellipse cx="246.0" cy="101.2" rx="11.0" ry="19.8" fill="url(#g)" opacity="0.34"/>
<ellipse cx="252.0" cy="108.2" rx="11.0" ry="8.8" fill="url(#g)" opacity="0.30"/>
<ellipse cx="250.0" cy="90.2" rx="11.0" ry="6.6" fill="url(#g)" opacity="0.22"/>
<ellipse cx="266.5" cy="98.8" rx="13.0" ry="12.5" fill="none" stroke="#fff" stroke-width="5.0" opacity="0.15" filter="url(#b2)"/>
<ellipse cx="266.5" cy="99.2" rx="11.7" ry="11.7" fill="url(#k)" opacity="0.40"/>
<ellipse cx="266.4" cy="99.0" rx="11.4" ry="10.1" fill="url(#g)" opacity="1.00"/>
<ellipse cx="272.0" cy="105.2" rx="13.2" ry="11.0" fill="url(#g)" opacity="0.20"/>
<ellipse cx="302.0" cy="98.7" rx="24.0" ry="19.2" fill="url(#g)" opacity="0.36"/>
<ellipse cx="285.0" cy="100.2" rx="11.0" ry="17.6" fill="url(#g)" opacity="0.24"/>
<ellipse cx="302.6" cy="98.4" rx="12.0" ry="8.0" fill="none" stroke="#fff" stroke-width="5.0" opacity="0.20" filter="url(#b2)"/>
<ellipse cx="300.5" cy="98.6" rx="14.3" ry="4.8" fill="url(#k)" opacity="0.85"/>
<ellipse cx="303.0" cy="89.8" rx="19.4" ry="11.4" fill="url(#g)" opacity="0.97"/>
<ellipse cx="304.0" cy="106.8" rx="16.5" ry="9.2" fill="url(#g)" opacity="0.88"/>
</g>
</g></g>
<rect x="0" y="121.6" width="324" height="1.4" fill="#ffeaea"/>
</g>
<line x1="470.2" y1="49.0" x2="470.2" y2="59.5" stroke="#e4e4e4" stroke-width="1.3"/>
<line x1="470.2" y1="161.1" x2="470.2" y2="170.6" stroke="#e4e4e4" stroke-width="1.3"/>
<line x1="578.2" y1="49.0" x2="578.2" y2="59.5" stroke="#e4e4e4" stroke-width="1.3"/>
<line x1="578.2" y1="161.1" x2="578.2" y2="170.6" stroke="#e4e4e4" stroke-width="1.3"/>
<line x1="491.4" y1="50.0" x2="491.4" y2="170.6" stroke="#e4e4e4" stroke-width="1.3" stroke-dasharray="10.6 8.5"/>
<line x1="473.1" y1="93.7" x2="504.4" y2="62.3" stroke="#1aa7ea" stroke-width="2.3" stroke-dasharray="9.7 9.7"/>
<text x="365.6" y="81.1" font-size="22" fill="#fff">S</text>
<text x="363.1" y="156.4" font-size="22" fill="#fff">M</text>
<text x="619.8" y="80.5" font-size="24" fill="#fff">(b<tspan font-size="16" dy="6.2">1</tspan><tspan dy="-6.2">)</tspan></text>
<g transform="translate(357.0 245.0)">
<g clip-path="url(#ic)"><g filter="url(#hot)"><rect x="-5" y="-5" width="334" height="132" fill="#000"/>
<ellipse cx="62.5" cy="30.0" rx="22.0" ry="17.0" fill="none" stroke="#fff" stroke-width="9.0" opacity="0.03" filter="url(#b3)"/>
<ellipse cx="19.0" cy="29.0" rx="15.0" ry="15.0" fill="none" stroke="#fff" stroke-width="8.0" opacity="0.01" filter="url(#b3)"/>
<ellipse cx="133.0" cy="29.0" rx="51.0" ry="33.0" fill="url(#g)" opacity="0.20"/>
<ellipse cx="179.5" cy="29.5" rx="16.5" ry="14.5" fill="none" stroke="#fff" stroke-width="11.0" opacity="0.22" filter="url(#b3)"/>
<ellipse cx="128.5" cy="28.7" rx="19.5" ry="16.0" fill="none" stroke="#fff" stroke-width="7.5" opacity="0.36" filter="url(#b2)"/>
<ellipse cx="149.0" cy="32.0" rx="15.4" ry="24.2" fill="url(#g)" opacity="0.32"/>
<ellipse cx="125.0" cy="27.9" rx="9.9" ry="11.0" fill="url(#k)" opacity="0.50"/>
<ellipse cx="136.0" cy="32.7" rx="7.7" ry="7.7" fill="url(#k)" opacity="0.35"/>
<ellipse cx="114.5" cy="17.2" rx="8.8" ry="8.4" fill="url(#g)" opacity="0.62"/>
<ellipse cx="137.8" cy="14.0" rx="13.2" ry="6.6" fill="url(#g)" opacity="0.55"/>
<ellipse cx="152.2" cy="24.7" rx="13.2" ry="12.1" fill="url(#g)" opacity="0.92"/>
<ellipse cx="128.1" cy="46.7" rx="13.2" ry="6.2" fill="url(#g)" opacity="0.55"/>
<ellipse cx="149.0" cy="38.4" rx="9.9" ry="9.9" fill="url(#g)" opacity="0.30"/>
<ellipse cx="105.7" cy="29.5" rx="6.6" ry="13.2" fill="url(#g)" opacity="0.15"/>
<g transform="translate(1.2 0)">
<ellipse cx="27.3" cy="99.8" rx="17.3" ry="13.2" fill="none" stroke="#fff" stroke-width="7.0" opacity="0.06" filter="url(#b2)"/>
<ellipse cx="27.3" cy="99.8" rx="17.6" ry="13.4" fill="none" stroke="#fff" stroke-width="7.5" opacity="0.20" filter="url(#b1)" stroke-dasharray="2.12 3.18"/>
<ellipse cx="39.0" cy="96.2" rx="11.0" ry="17.6" fill="url(#g)" opacity="0.07"/>
<ellipse cx="79.9" cy="98.7" rx="16.5" ry="12.0" fill="none" stroke="#fff" stroke-width="7.0" opacity="0.04" filter="url(#b2)"/>
<ellipse cx="79.9" cy="98.7" rx="16.8" ry="12.3" fill="none" stroke="#fff" stroke-width="7.5" opacity="0.11" filter="url(#b1)" stroke-dasharray="2.12 3.18"/>
<ellipse cx="128.5" cy="99.0" rx="15.8" ry="11.4" fill="none" stroke="#fff" stroke-width="8.0" opacity="0.41" filter="url(#b2)"/>
<ellipse cx="128.5" cy="99.2" rx="21.0" ry="15.0" fill="url(#g)" opacity="0.08"/>
<ellipse cx="113.5" cy="94.2" rx="5.3" ry="5.3" fill="url(#g)" opacity="0.16"/>
<ellipse cx="114.0" cy="102.2" rx="5.3" ry="5.3" fill="url(#g)" opacity="0.14"/>
<ellipse cx="141.0" cy="91.7" rx="5.3" ry="5.3" fill="url(#g)" opacity="0.18"/>
<ellipse cx="144.0" cy="98.2" rx="5.3" ry="5.3" fill="url(#g)" opacity="0.20"/>
<ellipse cx="134.0" cy="87.2" rx="5.3" ry="5.3" fill="url(#g)" opacity="0.12"/>
<ellipse cx="128.0" cy="111.2" rx="5.3" ry="5.3" fill="url(#g)" opacity="0.14"/>
<ellipse cx="138.0" cy="109.2" rx="5.3" ry="5.3" fill="url(#g)" opacity="0.10"/>
<ellipse cx="120.0" cy="88.7" rx="5.3" ry="5.3" fill="url(#g)" opacity="0.12"/>
<ellipse cx="117.0" cy="107.2" rx="5.3" ry="5.3" fill="url(#g)" opacity="0.10"/>
<ellipse cx="158.0" cy="86.2" rx="6.2" ry="5.7" fill="url(#g)" opacity="0.36"/>
<ellipse cx="168.5" cy="85.7" rx="6.2" ry="5.7" fill="url(#g)" opacity="0.40"/>
<ellipse cx="179.0" cy="85.7" rx="6.2" ry="5.7" fill="url(#g)" opacity="0.36"/>
<ellipse cx="190.0" cy="87.7" rx="6.2" ry="5.7" fill="url(#g)" opacity="0.36"/>
<ellipse cx="160.0" cy="97.2" rx="6.2" ry="5.7" fill="url(#g)" opacity="0.26"/>
<ellipse cx="172.0" cy="95.2" rx="6.2" ry="5.7" fill="url(#g)" opacity="0.30"/>
<ellipse cx="183.0" cy="92.2" rx="6.2" ry="5.7" fill="url(#g)" opacity="0.34"/>
<ellipse cx="196.0" cy="99.2" rx="6.2" ry="5.7" fill="url(#g)" opacity="0.50"/>
<ellipse cx="157.0" cy="105.7" rx="6.2" ry="5.7" fill="url(#g)" opacity="0.36"/>
<ellipse cx="166.0" cy="110.2" rx="6.2" ry="5.7" fill="url(#g)" opacity="0.41"/>
<ellipse cx="176.0" cy="111.7" rx="6.2" ry="5.7" fill="url(#g)" opacity="0.43"/>
<ellipse cx="186.0" cy="107.2" rx="6.2" ry="5.7" fill="url(#g)" opacity="0.30"/>
<ellipse cx="203.0" cy="89.2" rx="6.2" ry="5.7" fill="url(#g)" opacity="0.36"/>
<ellipse cx="207.0" cy="107.2" rx="6.2" ry="5.7" fill="url(#g)" opacity="0.36"/>
<ellipse cx="199.0" cy="110.2" rx="6.2" ry="5.7" fill="url(#g)" opacity="0.24"/>
<ellipse cx="150.0" cy="96.2" rx="6.2" ry="5.7" fill="url(#g)" opacity="0.24"/>
<ellipse cx="191.0" cy="98.2" rx="6.2" ry="5.7" fill="url(#g)" opacity="0.36"/>
<ellipse cx="152.0" cy="89.2" rx="6.2" ry="5.7" fill="url(#g)" opacity="0.18"/>
<ellipse cx="165.0" cy="103.2" rx="6.2" ry="5.7" fill="url(#g)" opacity="0.22"/>
<ellipse cx="178.0" cy="102.2" rx="6.2" ry="5.7" fill="url(#g)" opacity="0.24"/>
<ellipse cx="188.0" cy="102.2" rx="6.2" ry="5.7" fill="url(#g)" opacity="0.26"/>
<ellipse cx="201.0" cy="95.2" rx="6.2" ry="5.7" fill="url(#g)" opacity="0.30"/>
<ellipse cx="150.0" cy="104.2" rx="6.2" ry="5.7" fill="url(#g)" opacity="0.18"/>
<ellipse cx="176.0" cy="94.2" rx="6.2" ry="5.7" fill="url(#g)" opacity="0.14"/>
<ellipse cx="163.0" cy="91.2" rx="6.2" ry="5.7" fill="url(#g)" opacity="0.18"/>
<ellipse cx="194.0" cy="106.2" rx="6.2" ry="5.7" fill="url(#g)" opacity="0.24"/>
<ellipse cx="206.0" cy="98.2" rx="6.2" ry="5.7" fill="url(#g)" opacity="0.30"/>
<ellipse cx="180.0" cy="99.2" rx="42.0" ry="18.2" fill="url(#g)" opacity="0.15"/>
<ellipse cx="240.0" cy="100.2" rx="91.0" ry="14.3" fill="url(#g)" opacity="0.14"/>
<ellipse cx="225.0" cy="98.8" rx="14.5" ry="13.5" fill="none" stroke="#fff" stroke-width="5.0" opacity="0.22" filter="url(#b2)"/>
<ellipse cx="225.0" cy="99.2" rx="18.0" ry="16.5" fill="url(#g)" opacity="0.22"/>
<ellipse cx="225.5" cy="91.2" rx="11.0" ry="4.8" fill="url(#k)" opacity="0.40"/>
<ellipse cx="214.5" cy="99.2" rx="4.8" ry="11.0" fill="url(#k)" opacity="0.45"/>
<ellipse cx="236.8" cy="101.2" rx="4.8" ry="11.0" fill="url(#k)" opacity="0.45"/>
<ellipse cx="220.2" cy="100.6" rx="7.0" ry="7.9" fill="url(#g)" opacity="0.90"/>
<ellipse cx="230.6" cy="97.0" rx="8.4" ry="12.3" fill="url(#g)" opacity="1.00"/>
<ellipse cx="231.0" cy="102.7" rx="6.2" ry="7.5" fill="url(#g)" opacity="0.70"/>
<ellipse cx="213.0" cy="112.2" rx="6.6" ry="5.5" fill="url(#g)" opacity="0.35"/>
<ellipse cx="246.0" cy="101.2" rx="11.0" ry="19.8" fill="url(#g)" opacity="0.34"/>
<ellipse cx="252.0" cy="108.2" rx="11.0" ry="8.8" fill="url(#g)" opacity="0.30"/>
<ellipse cx="250.0" cy="90.2" rx="11.0" ry="6.6" fill="url(#g)" opacity="0.22"/>
<ellipse cx="266.5" cy="98.8" rx="13.0" ry="12.5" fill="none" stroke="#fff" stroke-width="5.0" opacity="0.15" filter="url(#b2)"/>
<ellipse cx="266.5" cy="99.2" rx="11.7" ry="11.7" fill="url(#k)" opacity="0.40"/>
<ellipse cx="266.4" cy="99.0" rx="11.4" ry="10.1" fill="url(#g)" opacity="1.00"/>
<ellipse cx="272.0" cy="105.2" rx="13.2" ry="11.0" fill="url(#g)" opacity="0.20"/>
<ellipse cx="302.0" cy="98.7" rx="24.0" ry="19.2" fill="url(#g)" opacity="0.36"/>
<ellipse cx="285.0" cy="100.2" rx="11.0" ry="17.6" fill="url(#g)" opacity="0.24"/>
<ellipse cx="302.6" cy="98.4" rx="12.0" ry="8.0" fill="none" stroke="#fff" stroke-width="5.0" opacity="0.20" filter="url(#b2)"/>
<ellipse cx="300.5" cy="98.6" rx="14.3" ry="4.8" fill="url(#k)" opacity="0.85"/>
<ellipse cx="303.0" cy="89.8" rx="19.4" ry="11.4" fill="url(#g)" opacity="0.97"/>
<ellipse cx="304.0" cy="106.8" rx="16.5" ry="9.2" fill="url(#g)" opacity="0.88"/>
</g>
</g></g>
<rect x="0" y="121.3" width="324" height="1.7" fill="#ffeaea"/>
</g>
<line x1="470.4" y1="245.0" x2="470.4" y2="255.5" stroke="#e4e4e4" stroke-width="1.3"/>
<line x1="470.4" y1="356.8" x2="470.4" y2="366.3" stroke="#e4e4e4" stroke-width="1.3"/>
<line x1="578.2" y1="245.0" x2="578.2" y2="255.5" stroke="#e4e4e4" stroke-width="1.3"/>
<line x1="578.2" y1="356.8" x2="578.2" y2="366.3" stroke="#e4e4e4" stroke-width="1.3"/>
<line x1="487.7" y1="246.0" x2="487.7" y2="366.3" stroke="#e4e4e4" stroke-width="1.3" stroke-dasharray="10.6 8.5"/>
<text x="365.6" y="275.5" font-size="22" fill="#fff">S</text>
<text x="363.1" y="351.2" font-size="22" fill="#fff">M</text>
<text x="619.8" y="274.9" font-size="24" fill="#fff">(b<tspan font-size="16" dy="6.2">2</tspan><tspan dy="-6.2">)</tspan></text>
<g transform="translate(357.0 439.3)">
<g clip-path="url(#ic)"><g filter="url(#hot)"><rect x="-5" y="-5" width="334" height="132" fill="#000"/>
<ellipse cx="62.5" cy="30.0" rx="22.0" ry="17.0" fill="none" stroke="#fff" stroke-width="10.0" opacity="0.04" filter="url(#b3)"/>
<ellipse cx="19.0" cy="29.0" rx="15.0" ry="15.0" fill="none" stroke="#fff" stroke-width="8.0" opacity="0.02" filter="url(#b3)"/>
<ellipse cx="55.0" cy="30.0" rx="65.0" ry="26.0" fill="url(#g)" opacity="0.04"/>
<ellipse cx="48.0" cy="21.0" rx="8.8" ry="8.8" fill="url(#g)" opacity="0.04"/>
<ellipse cx="60.0" cy="34.0" rx="8.8" ry="8.8" fill="url(#g)" opacity="0.04"/>
<ellipse cx="40.0" cy="40.0" rx="8.8" ry="8.8" fill="url(#g)" opacity="0.04"/>
<ellipse cx="75.0" cy="12.0" rx="8.8" ry="8.8" fill="url(#g)" opacity="0.04"/>
<ellipse cx="85.0" cy="42.0" rx="8.8" ry="8.8" fill="url(#g)" opacity="0.04"/>
<ellipse cx="30.0" cy="15.0" rx="8.8" ry="8.8" fill="url(#g)" opacity="0.04"/>
<ellipse cx="130.0" cy="30.0" rx="45.0" ry="33.0" fill="url(#g)" opacity="0.18"/>
<ellipse cx="174.7" cy="28.6" rx="16.5" ry="14.5" fill="none" stroke="#fff" stroke-width="11.0" opacity="0.14" filter="url(#b3)"/>
<ellipse cx="120.9" cy="14.2" rx="12.8" ry="11.0" fill="url(#g)" opacity="0.52"/>
<ellipse cx="144.2" cy="16.6" rx="14.1" ry="12.3" fill="url(#g)" opacity="0.68"/>
<ellipse cx="108.6" cy="27.0" rx="13.2" ry="11.9" fill="url(#g)" opacity="0.72"/>
<ellipse cx="153.0" cy="33.4" rx="13.6" ry="12.8" fill="url(#g)" opacity="0.72"/>
<ellipse cx="115.3" cy="42.3" rx="12.3" ry="11.4" fill="url(#g)" opacity="0.54"/>
<ellipse cx="138.6" cy="46.3" rx="13.2" ry="11.4" fill="url(#g)" opacity="0.64"/>
<ellipse cx="229.6" cy="26.0" rx="8.0" ry="8.0" fill="none" stroke="#fff" stroke-width="5.0" opacity="0.03" filter="url(#b2)"/>
<g transform="translate(2.3 0)">
<ellipse cx="27.3" cy="99.8" rx="17.3" ry="13.2" fill="none" stroke="#fff" stroke-width="7.0" opacity="0.06" filter="url(#b2)"/>
<ellipse cx="27.3" cy="99.8" rx="17.6" ry="13.4" fill="none" stroke="#fff" stroke-width="7.5" opacity="0.20" filter="url(#b1)" stroke-dasharray="2.12 3.18"/>
<ellipse cx="39.0" cy="96.2" rx="11.0" ry="17.6" fill="url(#g)" opacity="0.07"/>
<ellipse cx="79.9" cy="98.7" rx="16.5" ry="12.0" fill="none" stroke="#fff" stroke-width="7.0" opacity="0.04" filter="url(#b2)"/>
<ellipse cx="79.9" cy="98.7" rx="16.8" ry="12.3" fill="none" stroke="#fff" stroke-width="7.5" opacity="0.11" filter="url(#b1)" stroke-dasharray="2.12 3.18"/>
<ellipse cx="128.5" cy="99.0" rx="15.8" ry="11.4" fill="none" stroke="#fff" stroke-width="8.0" opacity="0.41" filter="url(#b2)"/>
<ellipse cx="128.5" cy="99.2" rx="21.0" ry="15.0" fill="url(#g)" opacity="0.08"/>
<ellipse cx="113.5" cy="94.2" rx="5.3" ry="5.3" fill="url(#g)" opacity="0.16"/>
<ellipse cx="114.0" cy="102.2" rx="5.3" ry="5.3" fill="url(#g)" opacity="0.14"/>
<ellipse cx="141.0" cy="91.7" rx="5.3" ry="5.3" fill="url(#g)" opacity="0.18"/>
<ellipse cx="144.0" cy="98.2" rx="5.3" ry="5.3" fill="url(#g)" opacity="0.20"/>
<ellipse cx="134.0" cy="87.2" rx="5.3" ry="5.3" fill="url(#g)" opacity="0.12"/>
<ellipse cx="128.0" cy="111.2" rx="5.3" ry="5.3" fill="url(#g)" opacity="0.14"/>
<ellipse cx="138.0" cy="109.2" rx="5.3" ry="5.3" fill="url(#g)" opacity="0.10"/>
<ellipse cx="120.0" cy="88.7" rx="5.3" ry="5.3" fill="url(#g)" opacity="0.12"/>
<ellipse cx="117.0" cy="107.2" rx="5.3" ry="5.3" fill="url(#g)" opacity="0.10"/>
<ellipse cx="158.0" cy="86.2" rx="6.2" ry="5.7" fill="url(#g)" opacity="0.36"/>
<ellipse cx="168.5" cy="85.7" rx="6.2" ry="5.7" fill="url(#g)" opacity="0.40"/>
<ellipse cx="179.0" cy="85.7" rx="6.2" ry="5.7" fill="url(#g)" opacity="0.36"/>
<ellipse cx="190.0" cy="87.7" rx="6.2" ry="5.7" fill="url(#g)" opacity="0.36"/>
<ellipse cx="160.0" cy="97.2" rx="6.2" ry="5.7" fill="url(#g)" opacity="0.26"/>
<ellipse cx="172.0" cy="95.2" rx="6.2" ry="5.7" fill="url(#g)" opacity="0.30"/>
<ellipse cx="183.0" cy="92.2" rx="6.2" ry="5.7" fill="url(#g)" opacity="0.34"/>
<ellipse cx="196.0" cy="99.2" rx="6.2" ry="5.7" fill="url(#g)" opacity="0.50"/>
<ellipse cx="157.0" cy="105.7" rx="6.2" ry="5.7" fill="url(#g)" opacity="0.36"/>
<ellipse cx="166.0" cy="110.2" rx="6.2" ry="5.7" fill="url(#g)" opacity="0.41"/>
<ellipse cx="176.0" cy="111.7" rx="6.2" ry="5.7" fill="url(#g)" opacity="0.43"/>
<ellipse cx="186.0" cy="107.2" rx="6.2" ry="5.7" fill="url(#g)" opacity="0.30"/>
<ellipse cx="203.0" cy="89.2" rx="6.2" ry="5.7" fill="url(#g)" opacity="0.36"/>
<ellipse cx="207.0" cy="107.2" rx="6.2" ry="5.7" fill="url(#g)" opacity="0.36"/>
<ellipse cx="199.0" cy="110.2" rx="6.2" ry="5.7" fill="url(#g)" opacity="0.24"/>
<ellipse cx="150.0" cy="96.2" rx="6.2" ry="5.7" fill="url(#g)" opacity="0.24"/>
<ellipse cx="191.0" cy="98.2" rx="6.2" ry="5.7" fill="url(#g)" opacity="0.36"/>
<ellipse cx="152.0" cy="89.2" rx="6.2" ry="5.7" fill="url(#g)" opacity="0.18"/>
<ellipse cx="165.0" cy="103.2" rx="6.2" ry="5.7" fill="url(#g)" opacity="0.22"/>
<ellipse cx="178.0" cy="102.2" rx="6.2" ry="5.7" fill="url(#g)" opacity="0.24"/>
<ellipse cx="188.0" cy="102.2" rx="6.2" ry="5.7" fill="url(#g)" opacity="0.26"/>
<ellipse cx="201.0" cy="95.2" rx="6.2" ry="5.7" fill="url(#g)" opacity="0.30"/>
<ellipse cx="150.0" cy="104.2" rx="6.2" ry="5.7" fill="url(#g)" opacity="0.18"/>
<ellipse cx="176.0" cy="94.2" rx="6.2" ry="5.7" fill="url(#g)" opacity="0.14"/>
<ellipse cx="163.0" cy="91.2" rx="6.2" ry="5.7" fill="url(#g)" opacity="0.18"/>
<ellipse cx="194.0" cy="106.2" rx="6.2" ry="5.7" fill="url(#g)" opacity="0.24"/>
<ellipse cx="206.0" cy="98.2" rx="6.2" ry="5.7" fill="url(#g)" opacity="0.30"/>
<ellipse cx="180.0" cy="99.2" rx="42.0" ry="18.2" fill="url(#g)" opacity="0.15"/>
<ellipse cx="240.0" cy="100.2" rx="91.0" ry="14.3" fill="url(#g)" opacity="0.14"/>
<ellipse cx="225.0" cy="98.8" rx="14.5" ry="13.5" fill="none" stroke="#fff" stroke-width="5.0" opacity="0.22" filter="url(#b2)"/>
<ellipse cx="225.0" cy="99.2" rx="18.0" ry="16.5" fill="url(#g)" opacity="0.22"/>
<ellipse cx="225.5" cy="91.2" rx="11.0" ry="4.8" fill="url(#k)" opacity="0.40"/>
<ellipse cx="214.5" cy="99.2" rx="4.8" ry="11.0" fill="url(#k)" opacity="0.45"/>
<ellipse cx="236.8" cy="101.2" rx="4.8" ry="11.0" fill="url(#k)" opacity="0.45"/>
<ellipse cx="220.2" cy="100.6" rx="7.0" ry="7.9" fill="url(#g)" opacity="0.90"/>
<ellipse cx="230.6" cy="97.0" rx="8.4" ry="12.3" fill="url(#g)" opacity="1.00"/>
<ellipse cx="231.0" cy="102.7" rx="6.2" ry="7.5" fill="url(#g)" opacity="0.70"/>
<ellipse cx="213.0" cy="112.2" rx="6.6" ry="5.5" fill="url(#g)" opacity="0.35"/>
<ellipse cx="246.0" cy="101.2" rx="11.0" ry="19.8" fill="url(#g)" opacity="0.34"/>
<ellipse cx="252.0" cy="108.2" rx="11.0" ry="8.8" fill="url(#g)" opacity="0.30"/>
<ellipse cx="250.0" cy="90.2" rx="11.0" ry="6.6" fill="url(#g)" opacity="0.22"/>
<ellipse cx="266.5" cy="98.8" rx="13.0" ry="12.5" fill="none" stroke="#fff" stroke-width="5.0" opacity="0.15" filter="url(#b2)"/>
<ellipse cx="266.5" cy="99.2" rx="11.7" ry="11.7" fill="url(#k)" opacity="0.40"/>
<ellipse cx="266.4" cy="99.0" rx="11.4" ry="10.1" fill="url(#g)" opacity="1.00"/>
<ellipse cx="272.0" cy="105.2" rx="13.2" ry="11.0" fill="url(#g)" opacity="0.20"/>
<ellipse cx="302.0" cy="98.7" rx="24.0" ry="19.2" fill="url(#g)" opacity="0.36"/>
<ellipse cx="285.0" cy="100.2" rx="11.0" ry="17.6" fill="url(#g)" opacity="0.24"/>
<ellipse cx="302.6" cy="98.4" rx="12.0" ry="8.0" fill="none" stroke="#fff" stroke-width="5.0" opacity="0.20" filter="url(#b2)"/>
<ellipse cx="300.5" cy="98.6" rx="14.3" ry="4.8" fill="url(#k)" opacity="0.85"/>
<ellipse cx="303.0" cy="89.8" rx="19.4" ry="11.4" fill="url(#g)" opacity="0.97"/>
<ellipse cx="304.0" cy="106.8" rx="16.5" ry="9.2" fill="url(#g)" opacity="0.88"/>
</g>
</g></g>
<rect x="0" y="121.2" width="324" height="1.8" fill="#ffeaea"/>
</g>
<line x1="470.2" y1="439.3" x2="470.2" y2="449.8" stroke="#e4e4e4" stroke-width="1.3"/>
<line x1="470.2" y1="551.0" x2="470.2" y2="560.5" stroke="#e4e4e4" stroke-width="1.3"/>
<line x1="578.2" y1="439.3" x2="578.2" y2="449.8" stroke="#e4e4e4" stroke-width="1.3"/>
<line x1="578.2" y1="551.0" x2="578.2" y2="560.5" stroke="#e4e4e4" stroke-width="1.3"/>
<line x1="488.8" y1="440.3" x2="488.8" y2="560.5" stroke="#e4e4e4" stroke-width="1.3" stroke-dasharray="10.6 8.5"/>
<line x1="471.5" y1="486.1" x2="502.5" y2="454.3" stroke="#1aa7ea" stroke-width="2.3" stroke-dasharray="9.7 9.7"/>
<text x="365.6" y="468.2" font-size="22" fill="#fff">S</text>
<text x="363.1" y="544.1" font-size="22" fill="#fff">M</text>
<text x="619.8" y="467.6" font-size="24" fill="#fff">(b<tspan font-size="16" dy="6.2">3</tspan><tspan dy="-6.2">)</tspan></text>
<text transform="translate(19.3 32.4) scale(0.94 1.07)" font-size="30" font-weight="bold" fill="#000">a</text>
<text x="357.6" y="32.3" font-size="30.5" font-weight="bold" fill="#000">b</text>
<text transform="translate(18.8 698.2) scale(1.0 1.09)" font-size="30" font-weight="bold" fill="#000">c</text>
<text x="137.4" y="35.2" font-size="21.3" fill="#000" text-anchor="start">S<tspan font-size="14.5" dy="4.6">u</tspan><tspan dy="-4.6"> (2,1,-)</tspan></text>
<text x="104.4" y="193.6" font-size="21.3" fill="#000"><tspan class="se" font-size="21.3">&#916;<tspan font-style="italic">&#957;</tspan></tspan> = -3.50 GHz</text>
<text x="135.7" y="231.3" font-size="21.3" fill="#000" text-anchor="start">S<tspan font-size="14.5" dy="4.6">u</tspan><tspan dy="-4.6"> (2,1,<tspan class="se">&#177;</tspan>)</tspan></text>
<text x="122.5" y="389.8" font-size="21.3" fill="#000"><tspan class="se" font-size="21.3">&#916;<tspan font-style="italic">&#957;</tspan></tspan> = 0 GHz</text>
<text x="134.9" y="426.3" font-size="21.3" fill="#000" text-anchor="start">S<tspan font-size="14.5" dy="4.6">u</tspan><tspan dy="-4.6"> (2,1,+)</tspan></text>
<text x="130.8" y="583.1" font-size="21.3" text-anchor="middle">847.5</text>
<text x="238.2" y="583.1" font-size="21.3" text-anchor="middle">848.0</text>
<text x="179.3" y="607.5" font-size="21.3" text-anchor="middle">Wavelength (nm)</text>
<text x="107.9" y="634.6" font-size="21.3" fill="#000"><tspan class="se" font-size="21.3">&#916;<tspan font-style="italic">&#957;</tspan></tspan> = 4.14 GHz</text>
<text x="477.4" y="36.5" font-size="21.3" fill="#000" text-anchor="start">S<tspan font-size="14.5" dy="4.6">u</tspan><tspan dy="-4.6"> (3,1,-)</tspan></text>
<text x="445.4" y="195.0" font-size="21.3" fill="#000"><tspan class="se" font-size="21.3">&#916;<tspan font-style="italic">&#957;</tspan></tspan> = 40.0 GHz</text>
<text x="475.7" y="232.6" font-size="21.3" fill="#000" text-anchor="start">S<tspan font-size="14.5" dy="4.6">u</tspan><tspan dy="-4.6"> (3,1,<tspan class="se">&#177;</tspan>)</tspan></text>
<text x="445.4" y="391.0" font-size="21.3" fill="#000"><tspan class="se" font-size="21.3">&#916;<tspan font-style="italic">&#957;</tspan></tspan> = 44.3 GHz</text>
<text x="474.9" y="427.5" font-size="21.3" fill="#000" text-anchor="start">S<tspan font-size="14.5" dy="4.6">u</tspan><tspan dy="-4.6"> (3,1,+)</tspan></text>
<text x="470.8" y="584.3" font-size="21.3" text-anchor="middle">847.5</text>
<text x="578.2" y="584.3" font-size="21.3" text-anchor="middle">848.0</text>
<text x="519.3" y="608.7" font-size="21.3" text-anchor="middle">Wavelength (nm)</text>
<text x="445.4" y="635.8" font-size="21.3" fill="#000"><tspan class="se" font-size="21.3">&#916;<tspan font-style="italic">&#957;</tspan></tspan> = 48.0 GHz</text>
<rect x="124.4" y="751.2" width="48.4" height="189.2" fill="#ececff"/>
<rect x="225.3" y="761.9" width="57.2" height="188.0" fill="#ffeeee"/>
<clipPath id="cc"><rect x="77.7" y="738.2" width="384.6" height="226.4"/></clipPath>
<g clip-path="url(#cc)" fill="none" stroke-linejoin="round">
<path d="M77.9 907.1 L78.3 895.5 L78.7 897.1 L79.1 899.7 L79.6 886.9 L80.0 891.9 L80.4 897.0 L80.9 879.0 L81.3 896.0 L81.7 909.0 L82.1 914.7 L82.6 909.4 L83.0 898.4 L83.4 896.7 L83.8 900.9 L84.3 912.8 L84.7 942.6 L85.1 937.6 L85.6 905.8 L86.0 898.2 L86.4 905.8 L86.8 893.5 L87.3 896.4 L87.7 899.4 L88.1 878.7 L88.6 884.0 L89.0 897.5 L89.4 897.5 L89.8 874.1 L90.3 891.9 L90.7 887.7 L91.1 887.5 L91.6 888.4 L92.0 887.9 L92.4 898.0 L92.8 900.8 L93.3 898.6 L93.7 899.8 L94.1 888.9 L94.5 878.4 L95.0 898.7 L95.4 890.9 L95.8 903.2 L96.3 904.1 L96.7 899.9 L97.1 895.2 L97.5 899.1 L98.0 921.2 L98.4 889.1 L98.8 895.4 L99.3 900.8 L99.7 889.7 L100.1 898.7 L100.5 909.4 L101.0 894.0 L101.4 890.1 L101.8 901.0 L102.2 888.2 L102.7 889.0 L103.1 904.0 L103.5 880.8 L104.0 888.7 L104.4 905.4 L104.8 896.5 L105.2 899.8 L105.7 898.3 L106.1 929.5 L106.5 914.5 L107.0 899.2 L107.4 892.4 L107.8 889.7 L108.2 881.2 L108.7 883.9 L109.1 890.1 L109.5 901.1 L110.0 885.4 L110.4 881.8 L110.8 887.3 L111.2 890.4 L111.7 885.7 L112.1 915.7 L112.5 897.3 L112.9 919.1 L113.4 899.1 L113.8 885.2 L114.2 873.0 L114.7 892.3 L115.1 889.4 L115.5 893.5 L115.9 915.6 L116.4 893.7 L116.8 894.4 L117.2 893.9 L117.7 903.6 L118.1 897.8 L118.5 894.9 L118.9 882.5 L119.4 888.4 L119.8 859.2 L120.2 888.2 L120.7 895.5 L121.1 895.6 L121.5 902.9 L121.9 882.5 L122.4 884.5 L122.8 903.4 L123.2 895.0 L123.6 881.3 L124.1 900.0 L124.5 886.2 L124.9 877.5 L125.4 844.4 L125.8 863.7 L126.2 885.0 L126.6 895.1 L127.1 875.4 L127.5 892.9 L127.9 871.9 L128.4 903.1 L128.8 899.3 L129.2 898.7 L129.6 903.1 L130.1 899.6 L130.5 889.8 L130.9 899.9 L131.3 910.3 L131.8 886.4 L132.2 878.0 L132.6 896.2 L133.1 891.9 L133.5 918.3 L133.9 891.0 L134.3 905.6 L134.8 902.3 L135.2 874.7 L135.6 899.4 L136.1 894.1 L136.5 902.7 L136.9 912.6 L137.3 908.6 L137.8 893.1 L138.2 903.4 L138.6 899.1 L139.1 884.6 L139.5 888.4 L139.9 900.2 L140.3 876.0 L140.8 881.5 L141.2 870.1 L141.6 889.8 L142.0 868.5 L142.5 890.7 L142.9 900.3 L143.3 889.5 L143.8 884.7 L144.2 875.9 L144.6 879.9 L145.0 868.0 L145.5 855.8 L145.9 869.2 L146.3 877.5 L146.8 867.1 L147.2 847.4 L147.6 835.0 L148.0 833.2 L148.5 825.5 L148.9 796.5 L149.3 762.1 L149.7 766.1 L150.2 763.6 L150.6 792.8 L151.0 814.9 L151.5 839.5 L151.9 833.7 L152.3 849.0 L152.7 871.6 L153.2 858.6 L153.6 868.7 L154.0 858.9 L154.5 866.2 L154.9 877.4 L155.3 874.3 L155.7 880.9 L156.2 887.4 L156.6 882.4 L157.0 874.7 L157.5 881.8 L157.9 888.5 L158.3 900.2 L158.7 902.8 L159.2 925.7 L159.6 944.3 L160.0 934.1 L160.4 892.4 L160.9 909.5 L161.3 897.5 L161.7 886.8 L162.2 879.2 L162.6 900.0 L163.0 903.0 L163.4 892.3 L163.9 878.5 L164.3 873.9 L164.7 897.9 L165.2 889.2 L165.6 876.6 L166.0 883.9 L166.4 896.5 L166.9 897.3 L167.3 903.6 L167.7 881.2 L168.1 888.6 L168.6 892.6 L169.0 898.2 L169.4 892.8 L169.9 898.8 L170.3 901.3 L170.7 893.1 L171.1 892.5 L171.6 885.8 L172.0 886.9 L172.4 877.2 L172.9 886.3 L173.3 886.1 L173.7 886.4 L174.1 896.5 L174.6 880.3 L175.0 892.4 L175.4 905.9 L175.9 882.6 L176.3 881.4 L176.7 892.8 L177.1 881.5 L177.6 878.0 L178.0 879.5 L178.4 898.1 L178.8 890.6 L179.3 900.0 L179.7 898.7 L180.1 897.8 L180.6 900.2 L181.0 888.0 L181.4 896.7 L181.8 885.6 L182.3 886.6 L182.7 894.4 L183.1 889.2 L183.6 882.6 L184.0 876.3 L184.4 888.0 L184.8 872.3 L185.3 879.1 L185.7 875.0 L186.1 899.5 L186.6 905.5 L187.0 888.3 L187.4 903.0 L187.8 907.2 L188.3 894.7 L188.7 908.4 L189.1 891.7 L189.5 871.2 L190.0 875.2 L190.4 882.7 L190.8 879.9 L191.3 883.9 L191.7 877.3 L192.1 869.6 L192.5 881.4 L193.0 876.2 L193.4 876.0 L193.8 869.9 L194.3 864.4 L194.7 877.8 L195.1 857.6 L195.5 855.1 L196.0 876.3 L196.4 877.8 L196.8 891.2 L197.2 884.5 L197.7 876.2 L198.1 886.5 L198.5 882.9 L199.0 877.7 L199.4 870.3 L199.8 872.6 L200.2 882.9 L200.7 873.8 L201.1 880.3 L201.5 888.8 L202.0 874.0 L202.4 883.8 L202.8 870.3 L203.2 881.8 L203.7 856.0 L204.1 873.2 L204.5 888.9 L205.0 882.4 L205.4 898.3 L205.8 901.5 L206.2 890.6 L206.7 895.2 L207.1 889.4 L207.5 892.2 L207.9 895.9 L208.4 905.4 L208.8 907.2 L209.2 905.7 L209.7 888.7 L210.1 883.6 L210.5 909.4 L210.9 914.8 L211.4 884.4 L211.8 894.5 L212.2 891.4 L212.7 893.5 L213.1 890.4 L213.5 871.0 L213.9 893.3 L214.4 892.7 L214.8 893.2 L215.2 903.9 L215.6 905.3 L216.1 900.0 L216.5 896.1 L216.9 891.1 L217.4 912.3 L217.8 915.0 L218.2 884.9 L218.6 893.6 L219.1 886.6 L219.5 896.6 L219.9 902.4 L220.4 877.1 L220.8 901.7 L221.2 906.0 L221.6 892.1 L222.1 894.3 L222.5 910.9 L222.9 898.8 L223.4 889.5 L223.8 908.4 L224.2 904.8 L224.6 890.8 L225.1 875.7 L225.5 911.9 L225.9 907.0 L226.3 898.6 L226.8 905.1 L227.2 906.9 L227.6 903.5 L228.1 892.7 L228.5 904.5 L228.9 889.4 L229.3 885.2 L229.8 883.6 L230.2 876.5 L230.6 894.0 L231.1 894.6 L231.5 884.6 L231.9 878.9 L232.3 880.2 L232.8 893.7 L233.2 898.0 L233.6 907.1 L234.1 901.2 L234.5 903.6 L234.9 900.2 L235.3 897.9 L235.8 885.2 L236.2 880.8 L236.6 887.7 L237.0 899.6 L237.5 891.9 L237.9 883.4 L238.3 874.4 L238.8 873.1 L239.2 857.0 L239.6 849.5 L240.0 838.5 L240.5 854.8 L240.9 876.4 L241.3 888.6 L241.8 874.1 L242.2 891.5 L242.6 880.8 L243.0 886.8 L243.5 889.2 L243.9 888.7 L244.3 890.0 L244.7 886.1 L245.2 866.9 L245.6 863.6 L246.0 877.0 L246.5 874.3 L246.9 868.1 L247.3 877.6 L247.7 857.0 L248.2 866.0 L248.6 860.3 L249.0 870.2 L249.5 870.3 L249.9 863.2 L250.3 849.8 L250.7 819.5 L251.2 810.9 L251.6 783.9 L252.0 779.3 L252.5 783.6 L252.9 784.4 L253.3 804.3 L253.7 835.3 L254.2 838.5 L254.6 836.3 L255.0 854.8 L255.4 874.4 L255.9 879.7 L256.3 888.6 L256.7 884.6 L257.2 892.4 L257.6 889.0 L258.0 887.5 L258.4 878.5 L258.9 902.7 L259.3 922.9 L259.7 900.2 L260.2 914.3 L260.6 936.9 L261.0 937.1 L261.4 940.0 L261.9 924.9 L262.3 905.2 L262.7 905.6 L263.1 899.5 L263.6 893.2 L264.0 892.9 L264.4 894.5 L264.9 885.3 L265.3 870.6 L265.7 859.2 L266.1 865.1 L266.6 848.9 L267.0 883.6 L267.4 899.3 L267.9 891.2 L268.3 890.8 L268.7 886.6 L269.1 920.2 L269.6 911.5 L270.0 932.0 L270.4 934.6 L270.9 916.6 L271.3 895.9 L271.7 909.2 L272.1 918.9 L272.6 910.1 L273.0 902.1 L273.4 886.6 L273.8 889.5 L274.3 896.3 L274.7 900.1 L275.1 900.6 L275.6 886.8 L276.0 907.6 L276.4 904.4 L276.8 904.9 L277.3 885.8 L277.7 889.5 L278.1 898.0 L278.6 886.8 L279.0 871.8 L279.4 876.0 L279.8 899.4 L280.3 895.7 L280.7 881.7 L281.1 905.5 L281.6 906.8 L282.0 899.4 L282.4 888.1 L282.8 897.4 L283.3 890.8 L283.7 891.6 L284.1 887.2 L284.5 900.3 L285.0 913.9 L285.4 917.2 L285.8 896.0 L286.3 881.8 L286.7 882.2 L287.1 902.2 L287.5 909.4 L288.0 897.7 L288.4 900.1 L288.8 909.6 L289.3 900.5 L289.7 899.8 L290.1 893.2 L290.5 886.6 L291.0 886.5 L291.4 886.7 L291.8 883.8 L292.2 889.4 L292.7 895.1 L293.1 897.0 L293.5 885.2 L294.0 900.4 L294.4 903.3 L294.8 900.0 L295.2 886.8 L295.7 913.5 L296.1 897.6 L296.5 883.9 L297.0 893.0 L297.4 897.8 L297.8 905.9 L298.2 901.1 L298.7 893.1 L299.1 908.6 L299.5 895.4 L300.0 899.4 L300.4 892.4 L300.8 900.9 L301.2 892.3 L301.7 889.0 L302.1 896.3 L302.5 898.3 L302.9 883.5 L303.4 882.1 L303.8 895.2 L304.2 887.6 L304.7 900.6 L305.1 898.4 L305.5 920.8 L305.9 905.0 L306.4 888.5 L306.8 894.7 L307.2 886.3 L307.7 895.6 L308.1 889.4 L308.5 891.8 L308.9 900.5 L309.4 873.8 L309.8 893.8 L310.2 904.6 L310.6 893.8 L311.1 887.2 L311.5 886.5 L311.9 890.5 L312.4 886.3 L312.8 880.5 L313.2 881.7 L313.6 901.1 L314.1 877.2 L314.5 886.7 L314.9 908.8 L315.4 887.8 L315.8 890.7 L316.2 887.4 L316.6 870.1 L317.1 888.8 L317.5 895.1 L317.9 900.3 L318.4 890.5 L318.8 882.8 L319.2 882.9 L319.6 884.8 L320.1 907.0 L320.5 890.5 L320.9 877.3 L321.3 888.1 L321.8 891.0 L322.2 895.7 L322.6 884.3 L323.1 896.8 L323.5 865.8 L323.9 874.4 L324.3 877.5 L324.8 879.2 L325.2 855.3 L325.6 832.6 L326.1 827.5 L326.5 813.7 L326.9 818.4 L327.3 827.9 L327.8 843.8 L328.2 848.1 L328.6 877.9 L329.0 850.2 L329.5 872.4 L329.9 884.7 L330.3 885.0 L330.8 868.7 L331.2 852.6 L331.6 822.2 L332.0 827.8 L332.5 861.8 L332.9 874.8 L333.3 882.7 L333.8 888.1 L334.2 886.7 L334.6 891.3 L335.0 876.3 L335.5 880.3 L335.9 879.2 L336.3 886.7 L336.8 899.0 L337.2 887.8 L337.6 892.9 L338.0 872.2 L338.5 873.8 L338.9 898.4 L339.3 904.8 L339.7 904.0 L340.2 902.9 L340.6 893.7 L341.0 910.7 L341.5 922.5 L341.9 947.2 L342.3 945.4 L342.7 913.9 L343.2 909.2 L343.6 886.9 L344.0 899.3 L344.5 900.7 L344.9 906.1 L345.3 915.7 L345.7 914.3 L346.2 924.9 L346.6 916.2 L347.0 914.4 L347.5 886.3 L347.9 889.8 L348.3 890.6 L348.7 890.5 L349.2 912.3 L349.6 893.7 L350.0 894.3 L350.4 892.7 L350.9 894.4 L351.3 896.7 L351.7 897.2 L352.2 902.2 L352.6 900.5 L353.0 891.8 L353.4 915.5 L353.9 894.6 L354.3 890.2 L354.7 905.2 L355.2 894.7 L355.6 893.6 L356.0 901.2 L356.4 882.4 L356.9 891.3 L357.3 896.9 L357.7 909.8 L358.1 880.5 L358.6 890.4 L359.0 892.5 L359.4 898.3 L359.9 878.1 L360.3 893.2 L360.7 881.3 L361.1 882.6 L361.6 883.8 L362.0 887.3 L362.4 883.4 L362.9 894.3 L363.3 916.3 L363.7 928.7 L364.1 896.0 L364.6 916.4 L365.0 890.1 L365.4 865.4 L365.9 905.5 L366.3 893.6 L366.7 891.3 L367.1 901.8 L367.6 917.1 L368.0 903.5 L368.4 882.3 L368.8 893.1 L369.3 895.3 L369.7 895.0 L370.1 895.2 L370.6 892.9 L371.0 873.0 L371.4 897.3 L371.8 913.6 L372.3 892.8 L372.7 899.7 L373.1 901.6 L373.6 910.7 L374.0 901.7 L374.4 901.5 L374.8 893.2 L375.3 898.7 L375.7 910.8 L376.1 895.8 L376.5 897.2 L377.0 915.9 L377.4 907.5 L377.8 896.3 L378.3 905.2 L378.7 918.7 L379.1 919.5 L379.5 921.4 L380.0 914.8 L380.4 898.6 L380.8 899.4 L381.3 903.6 L381.7 896.1 L382.1 893.3 L382.5 885.6 L383.0 882.5 L383.4 890.5 L383.8 894.1 L384.3 904.1 L384.7 895.9 L385.1 899.0 L385.5 888.1 L386.0 885.2 L386.4 885.9 L386.8 893.1 L387.2 891.5 L387.7 879.3 L388.1 873.7 L388.5 895.0 L389.0 924.0 L389.4 898.1 L389.8 912.1 L390.2 900.4 L390.7 892.9 L391.1 880.2 L391.5 893.3 L392.0 896.7 L392.4 902.4 L392.8 895.4 L393.2 908.7 L393.7 894.7 L394.1 892.8 L394.5 882.0 L395.0 895.6 L395.4 893.3 L395.8 894.0 L396.2 896.4 L396.7 906.8 L397.1 905.9 L397.5 899.3 L397.9 892.9 L398.4 885.3 L398.8 899.9 L399.2 895.4 L399.7 890.3 L400.1 886.3 L400.5 891.3 L400.9 893.2 L401.4 899.5 L401.8 897.4 L402.2 899.1 L402.7 915.5 L403.1 909.7 L403.5 925.6 L403.9 899.9 L404.4 888.2 L404.8 897.6 L405.2 894.7 L405.6 893.9 L406.1 897.8 L406.5 880.8 L406.9 893.0 L407.4 891.2 L407.8 894.6 L408.2 873.7 L408.6 905.7 L409.1 895.7 L409.5 908.8 L409.9 906.1 L410.4 907.7 L410.8 889.8 L411.2 904.0 L411.6 907.4 L412.1 901.1 L412.5 905.8 L412.9 907.6 L413.4 880.6 L413.8 896.6 L414.2 903.1 L414.6 882.0 L415.1 890.2 L415.5 882.8 L415.9 912.4 L416.3 911.7 L416.8 913.0 L417.2 929.2 L417.6 922.4 L418.1 896.6 L418.5 890.7 L418.9 881.2 L419.3 880.9 L419.8 896.2 L420.2 890.0 L420.6 875.5 L421.1 895.3 L421.5 884.8 L421.9 880.4 L422.3 871.1 L422.8 901.0 L423.2 865.5 L423.6 897.7 L424.0 890.2 L424.5 860.0 L424.9 893.5 L425.3 863.8 L425.8 876.6 L426.2 862.2 L426.6 862.9 L427.0 877.3 L427.5 891.9 L427.9 891.0 L428.3 901.6 L428.8 905.6 L429.2 887.2 L429.6 901.9 L430.0 886.1 L430.5 886.1 L430.9 886.7 L431.3 897.0 L431.8 902.2 L432.2 880.8 L432.6 894.0 L433.0 893.6 L433.5 888.9 L433.9 877.7 L434.3 859.6 L434.7 854.2 L435.2 865.6 L435.6 870.2 L436.0 871.6 L436.5 881.8 L436.9 884.6 L437.3 902.7 L437.7 882.2 L438.2 887.9 L438.6 879.7 L439.0 856.0 L439.5 864.7 L439.9 864.2 L440.3 867.2 L440.7 884.8 L441.2 891.3 L441.6 902.8 L442.0 896.4 L442.5 886.2 L442.9 877.3 L443.3 876.3 L443.7 886.9 L444.2 899.4 L444.6 889.7 L445.0 884.0 L445.4 909.0 L445.9 892.8 L446.3 905.8 L446.7 898.5 L447.2 892.9 L447.6 901.1 L448.0 898.2 L448.4 891.4 L448.9 901.3 L449.3 884.7 L449.7 880.1 L450.2 880.1 L450.6 898.8 L451.0 894.5 L451.4 894.8 L451.9 889.7 L452.3 880.8 L452.7 893.2 L453.1 890.4 L453.6 880.2 L454.0 890.7 L454.4 881.5 L454.9 887.5 L455.3 905.8 L455.7 895.1 L456.1 889.7 L456.6 894.8 L457.0 868.7 L457.4 888.3 L457.9 907.2 L458.3 897.5 L458.7 895.6 L459.1 886.7 L459.6 860.4 L460.0 882.0 L460.4 881.6 L460.9 902.2 L461.3 914.8 L461.7 922.3 L462.1 927.4 L462.6 935.6" stroke="#000" stroke-width="1.6"/>
<path d="M77.9 904.1 L78.3 906.8 L78.7 900.5 L79.1 910.2 L79.6 906.1 L80.0 913.3 L80.4 902.7 L80.9 901.5 L81.3 896.3 L81.7 901.9 L82.1 901.2 L82.6 904.2 L83.0 908.1 L83.4 906.8 L83.8 912.8 L84.3 912.7 L84.7 909.0 L85.1 910.9 L85.6 914.7 L86.0 906.4 L86.4 912.0 L86.8 917.8 L87.3 917.2 L87.7 919.1 L88.1 918.5 L88.6 917.0 L89.0 905.2 L89.4 907.1 L89.8 906.7 L90.3 903.9 L90.7 896.3 L91.1 901.7 L91.6 905.8 L92.0 894.3 L92.4 905.2 L92.8 905.8 L93.3 901.5 L93.7 892.2 L94.1 901.3 L94.5 912.1 L95.0 904.1 L95.4 905.2 L95.8 905.0 L96.3 901.2 L96.7 900.3 L97.1 899.5 L97.5 902.1 L98.0 896.0 L98.4 892.1 L98.8 896.3 L99.3 900.6 L99.7 897.6 L100.1 897.2 L100.5 903.6 L101.0 904.3 L101.4 898.4 L101.8 900.4 L102.2 902.5 L102.7 901.5 L103.1 902.3 L103.5 903.0 L104.0 912.0 L104.4 901.3 L104.8 903.3 L105.2 909.7 L105.7 905.7 L106.1 907.2 L106.5 909.4 L107.0 905.8 L107.4 898.1 L107.8 900.6 L108.2 896.6 L108.7 891.4 L109.1 901.9 L109.5 904.5 L110.0 900.0 L110.4 908.1 L110.8 905.8 L111.2 897.8 L111.7 894.8 L112.1 895.1 L112.5 905.8 L112.9 893.0 L113.4 894.2 L113.8 893.9 L114.2 894.9 L114.7 904.8 L115.1 908.6 L115.5 909.5 L115.9 896.6 L116.4 901.9 L116.8 902.1 L117.2 902.3 L117.7 898.8 L118.1 897.5 L118.5 897.8 L118.9 904.5 L119.4 916.0 L119.8 907.6 L120.2 903.0 L120.7 896.6 L121.1 899.1 L121.5 902.6 L121.9 900.0 L122.4 907.1 L122.8 908.5 L123.2 909.1 L123.6 903.9 L124.1 893.6 L124.5 894.1 L124.9 892.8 L125.4 896.0 L125.8 897.4 L126.2 901.2 L126.6 902.4 L127.1 912.2 L127.5 911.8 L127.9 912.0 L128.4 903.0 L128.8 899.2 L129.2 895.2 L129.6 891.4 L130.1 897.4 L130.5 894.5 L130.9 889.2 L131.3 894.9 L131.8 893.0 L132.2 897.3 L132.6 905.5 L133.1 902.2 L133.5 904.4 L133.9 901.5 L134.3 902.3 L134.8 899.3 L135.2 908.1 L135.6 894.4 L136.1 890.5 L136.5 895.7 L136.9 900.5 L137.3 898.8 L137.8 895.0 L138.2 893.9 L138.6 893.3 L139.1 902.9 L139.5 903.9 L139.9 893.6 L140.3 892.9 L140.8 899.9 L141.2 900.3 L141.6 902.7 L142.0 901.8 L142.5 891.6 L142.9 892.2 L143.3 886.4 L143.8 887.1 L144.2 894.4 L144.6 893.9 L145.0 880.4 L145.5 886.4 L145.9 889.9 L146.3 880.9 L146.8 880.2 L147.2 878.7 L147.6 869.3 L148.0 875.3 L148.5 863.9 L148.9 858.3 L149.3 851.6 L149.7 846.9 L150.2 844.3 L150.6 856.5 L151.0 874.2 L151.5 882.0 L151.9 875.7 L152.3 875.7 L152.7 885.7 L153.2 875.9 L153.6 883.7 L154.0 891.7 L154.5 891.4 L154.9 886.9 L155.3 882.0 L155.7 882.5 L156.2 889.3 L156.6 893.6 L157.0 900.0 L157.5 897.4 L157.9 898.8 L158.3 896.1 L158.7 901.8 L159.2 901.7 L159.6 903.7 L160.0 906.7 L160.4 908.6 L160.9 909.4 L161.3 911.1 L161.7 904.9 L162.2 904.4 L162.6 910.9 L163.0 906.4 L163.4 905.2 L163.9 899.3 L164.3 903.3 L164.7 905.0 L165.2 907.4 L165.6 904.6 L166.0 901.1 L166.4 900.4 L166.9 901.6 L167.3 898.3 L167.7 898.5 L168.1 897.8 L168.6 902.4 L169.0 899.6 L169.4 903.3 L169.9 904.4 L170.3 900.5 L170.7 890.0 L171.1 889.5 L171.6 893.5 L172.0 896.3 L172.4 892.6 L172.9 889.0 L173.3 887.8 L173.7 893.4 L174.1 894.5 L174.6 897.3 L175.0 898.5 L175.4 901.5 L175.9 900.4 L176.3 908.1 L176.7 907.8 L177.1 900.5 L177.6 902.7 L178.0 897.4 L178.4 902.7 L178.8 901.3 L179.3 897.2 L179.7 901.4 L180.1 902.0 L180.6 888.3 L181.0 895.2 L181.4 898.8 L181.8 899.9 L182.3 897.8 L182.7 896.9 L183.1 892.0 L183.6 890.3 L184.0 894.7 L184.4 896.6 L184.8 902.1 L185.3 905.2 L185.7 903.4 L186.1 896.0 L186.6 894.9 L187.0 891.3 L187.4 888.8 L187.8 892.4 L188.3 884.2 L188.7 891.6 L189.1 895.6 L189.5 896.8 L190.0 890.4 L190.4 892.8 L190.8 896.6 L191.3 893.3 L191.7 888.5 L192.1 891.6 L192.5 893.7 L193.0 888.9 L193.4 886.9 L193.8 886.0 L194.3 893.0 L194.7 892.0 L195.1 891.1 L195.5 900.0 L196.0 891.4 L196.4 891.9 L196.8 894.1 L197.2 883.8 L197.7 888.0 L198.1 893.8 L198.5 893.9 L199.0 891.2 L199.4 888.8 L199.8 891.5 L200.2 896.3 L200.7 898.1 L201.1 899.5 L201.5 901.3 L202.0 897.8 L202.4 898.1 L202.8 895.9 L203.2 898.8 L203.7 900.4 L204.1 898.3 L204.5 898.1 L205.0 891.5 L205.4 897.2 L205.8 895.3 L206.2 895.5 L206.7 901.3 L207.1 895.3 L207.5 894.9 L207.9 904.6 L208.4 897.8 L208.8 893.0 L209.2 898.3 L209.7 890.1 L210.1 892.9 L210.5 900.0 L210.9 896.2 L211.4 898.4 L211.8 903.9 L212.2 910.2 L212.7 903.1 L213.1 903.8 L213.5 898.3 L213.9 896.7 L214.4 900.0 L214.8 901.7 L215.2 892.6 L215.6 888.4 L216.1 890.6 L216.5 896.5 L216.9 902.3 L217.4 902.7 L217.8 894.0 L218.2 894.9 L218.6 898.7 L219.1 904.7 L219.5 901.7 L219.9 904.8 L220.4 902.5 L220.8 898.2 L221.2 894.6 L221.6 897.0 L222.1 900.2 L222.5 899.4 L222.9 892.1 L223.4 894.7 L223.8 903.8 L224.2 895.4 L224.6 896.9 L225.1 883.6 L225.5 894.1 L225.9 897.7 L226.3 900.4 L226.8 898.8 L227.2 902.1 L227.6 907.7 L228.1 912.4 L228.5 906.8 L228.9 905.8 L229.3 905.5 L229.8 893.5 L230.2 893.3 L230.6 891.8 L231.1 898.0 L231.5 897.5 L231.9 899.5 L232.3 900.4 L232.8 896.7 L233.2 895.4 L233.6 896.0 L234.1 896.9 L234.5 904.2 L234.9 904.8 L235.3 900.1 L235.8 901.0 L236.2 903.2 L236.6 899.3 L237.0 902.8 L237.5 903.5 L237.9 897.0 L238.3 899.1 L238.8 892.3 L239.2 892.8 L239.6 891.7 L240.0 889.7 L240.5 903.0 L240.9 900.5 L241.3 904.4 L241.8 902.8 L242.2 900.3 L242.6 893.1 L243.0 895.0 L243.5 888.6 L243.9 894.6 L244.3 895.5 L244.7 895.1 L245.2 891.1 L245.6 893.1 L246.0 896.4 L246.5 896.4 L246.9 900.7 L247.3 890.9 L247.7 887.6 L248.2 886.5 L248.6 885.7 L249.0 887.8 L249.5 886.2 L249.9 877.9 L250.3 877.7 L250.7 873.8 L251.2 857.3 L251.6 845.0 L252.0 842.3 L252.5 841.4 L252.9 847.1 L253.3 850.1 L253.7 864.3 L254.2 872.3 L254.6 877.0 L255.0 877.0 L255.4 885.8 L255.9 889.3 L256.3 895.3 L256.7 900.1 L257.2 903.6 L257.6 903.3 L258.0 900.9 L258.4 907.6 L258.9 911.2 L259.3 912.3 L259.7 909.1 L260.2 905.3 L260.6 911.0 L261.0 906.3 L261.4 909.4 L261.9 903.2 L262.3 907.2 L262.7 909.5 L263.1 908.9 L263.6 905.8 L264.0 908.2 L264.4 904.1 L264.9 902.3 L265.3 901.6 L265.7 900.4 L266.1 897.2 L266.6 902.4 L267.0 901.9 L267.4 901.7 L267.9 910.3 L268.3 904.0 L268.7 905.8 L269.1 906.4 L269.6 905.5 L270.0 902.7 L270.4 900.2 L270.9 898.2 L271.3 902.2 L271.7 898.2 L272.1 897.3 L272.6 900.3 L273.0 900.1 L273.4 896.4 L273.8 896.0 L274.3 894.7 L274.7 896.4 L275.1 892.8 L275.6 886.2 L276.0 890.5 L276.4 901.3 L276.8 892.4 L277.3 897.6 L277.7 903.7 L278.1 910.8 L278.6 902.3 L279.0 895.2 L279.4 891.9 L279.8 896.1 L280.3 890.2 L280.7 893.8 L281.1 897.7 L281.6 896.7 L282.0 895.5 L282.4 895.5 L282.8 894.0 L283.3 904.2 L283.7 893.2 L284.1 896.7 L284.5 893.2 L285.0 897.6 L285.4 895.7 L285.8 896.1 L286.3 902.2 L286.7 896.8 L287.1 893.0 L287.5 898.6 L288.0 905.5 L288.4 902.7 L288.8 902.2 L289.3 897.8 L289.7 896.1 L290.1 888.3 L290.5 888.5 L291.0 892.5 L291.4 892.6 L291.8 905.7 L292.2 903.8 L292.7 903.0 L293.1 899.1 L293.5 895.3 L294.0 893.9 L294.4 890.1 L294.8 895.2 L295.2 893.5 L295.7 894.5 L296.1 894.4 L296.5 893.1 L297.0 895.1 L297.4 894.0 L297.8 894.5 L298.2 890.3 L298.7 893.1 L299.1 892.7 L299.5 882.8 L300.0 886.3 L300.4 888.6 L300.8 887.4 L301.2 895.7 L301.7 892.6 L302.1 890.9 L302.5 891.4 L302.9 889.4 L303.4 889.3 L303.8 887.5 L304.2 894.5 L304.7 893.4 L305.1 897.1 L305.5 891.3 L305.9 893.2 L306.4 900.3 L306.8 897.8 L307.2 901.4 L307.7 894.7 L308.1 897.0 L308.5 906.1 L308.9 903.0 L309.4 895.4 L309.8 894.6 L310.2 898.3 L310.6 894.6 L311.1 893.1 L311.5 888.6 L311.9 888.7 L312.4 891.0 L312.8 897.1 L313.2 895.5 L313.6 894.6 L314.1 895.4 L314.5 894.0 L314.9 900.1 L315.4 895.6 L315.8 895.7 L316.2 894.2 L316.6 895.4 L317.1 896.7 L317.5 895.0 L317.9 891.8 L318.4 894.8 L318.8 893.4 L319.2 897.3 L319.6 894.1 L320.1 894.0 L320.5 899.3 L320.9 891.4 L321.3 895.9 L321.8 893.8 L322.2 898.3 L322.6 901.9 L323.1 892.9 L323.5 896.5 L323.9 900.1 L324.3 892.6 L324.8 892.8 L325.2 884.8 L325.6 869.7 L326.1 869.7 L326.5 866.5 L326.9 866.4 L327.3 870.8 L327.8 877.0 L328.2 874.9 L328.6 881.7 L329.0 883.9 L329.5 886.6 L329.9 894.3 L330.3 891.7 L330.8 891.8 L331.2 889.6 L331.6 888.6 L332.0 884.5 L332.5 897.4 L332.9 898.3 L333.3 898.6 L333.8 900.6 L334.2 896.4 L334.6 896.6 L335.0 896.0 L335.5 903.4 L335.9 904.6 L336.3 901.7 L336.8 902.2 L337.2 903.5 L337.6 902.5 L338.0 903.2 L338.5 907.4 L338.9 898.6 L339.3 904.8 L339.7 903.0 L340.2 903.0 L340.6 902.1 L341.0 908.7 L341.5 914.2 L341.9 910.9 L342.3 909.9 L342.7 920.1 L343.2 925.7 L343.6 919.3 L344.0 914.8 L344.5 911.6 L344.9 906.6 L345.3 909.6 L345.7 895.5 L346.2 895.6 L346.6 893.7 L347.0 897.0 L347.5 908.4 L347.9 904.2 L348.3 905.4 L348.7 901.7 L349.2 902.2 L349.6 899.1 L350.0 904.0 L350.4 904.3 L350.9 902.9 L351.3 905.4 L351.7 905.4 L352.2 900.9 L352.6 893.1 L353.0 898.3 L353.4 896.5 L353.9 903.9 L354.3 904.7 L354.7 901.8 L355.2 899.4 L355.6 904.9 L356.0 900.8 L356.4 900.7 L356.9 895.7 L357.3 894.8 L357.7 896.0 L358.1 900.6 L358.6 900.1 L359.0 904.6 L359.4 906.7 L359.9 912.0 L360.3 912.3 L360.7 912.4 L361.1 907.4 L361.6 904.1 L362.0 908.5 L362.4 905.4 L362.9 901.7 L363.3 897.6 L363.7 899.8 L364.1 899.6 L364.6 901.9 L365.0 897.6 L365.4 905.8 L365.9 902.3 L366.3 911.3 L366.7 898.7 L367.1 895.7 L367.6 906.9 L368.0 905.8 L368.4 908.9 L368.8 911.8 L369.3 907.6 L369.7 907.3 L370.1 899.0 L370.6 901.4 L371.0 904.9 L371.4 902.3 L371.8 898.8 L372.3 895.2 L372.7 894.5 L373.1 902.4 L373.6 903.2 L374.0 900.5 L374.4 901.4 L374.8 894.3 L375.3 893.8 L375.7 889.8 L376.1 885.0 L376.5 876.6 L377.0 881.3 L377.4 875.6 L377.8 887.2 L378.3 894.5 L378.7 902.9 L379.1 900.2 L379.5 904.5 L380.0 899.6 L380.4 893.7 L380.8 893.2 L381.3 897.6 L381.7 892.6 L382.1 896.3 L382.5 897.6 L383.0 897.9 L383.4 900.3 L383.8 897.8 L384.3 903.6 L384.7 908.8 L385.1 898.9 L385.5 902.2 L386.0 902.2 L386.4 899.4 L386.8 901.4 L387.2 905.5 L387.7 903.4 L388.1 905.6 L388.5 900.5 L389.0 902.1 L389.4 902.2 L389.8 898.0 L390.2 905.6 L390.7 909.3 L391.1 901.8 L391.5 895.9 L392.0 897.9 L392.4 902.3 L392.8 896.4 L393.2 896.5 L393.7 894.4 L394.1 905.3 L394.5 903.8 L395.0 906.8 L395.4 908.6 L395.8 902.5 L396.2 898.8 L396.7 902.1 L397.1 902.8 L397.5 896.3 L397.9 896.1 L398.4 899.2 L398.8 898.2 L399.2 899.3 L399.7 905.6 L400.1 905.7 L400.5 902.3 L400.9 899.2 L401.4 905.3 L401.8 906.6 L402.2 906.3 L402.7 910.1 L403.1 900.9 L403.5 899.0 L403.9 894.4 L404.4 906.7 L404.8 907.1 L405.2 896.1 L405.6 904.2 L406.1 909.9 L406.5 904.1 L406.9 895.4 L407.4 894.9 L407.8 901.3 L408.2 898.1 L408.6 897.0 L409.1 897.0 L409.5 896.4 L409.9 894.1 L410.4 891.5 L410.8 889.3 L411.2 889.3 L411.6 894.4 L412.1 903.9 L412.5 898.6 L412.9 904.4 L413.4 891.3 L413.8 899.1 L414.2 905.9 L414.6 909.1 L415.1 901.3 L415.5 897.6 L415.9 894.3 L416.3 894.0 L416.8 898.3 L417.2 893.7 L417.6 897.6 L418.1 902.9 L418.5 895.3 L418.9 893.1 L419.3 898.0 L419.8 897.6 L420.2 891.9 L420.6 889.4 L421.1 896.5 L421.5 890.9 L421.9 903.6 L422.3 898.6 L422.8 894.8 L423.2 895.0 L423.6 894.1 L424.0 900.8 L424.5 898.0 L424.9 893.9 L425.3 897.8 L425.8 895.3 L426.2 895.3 L426.6 904.1 L427.0 901.5 L427.5 895.3 L427.9 901.1 L428.3 897.4 L428.8 894.3 L429.2 899.5 L429.6 897.8 L430.0 892.2 L430.5 890.1 L430.9 896.3 L431.3 891.0 L431.8 891.2 L432.2 892.2 L432.6 887.0 L433.0 887.7 L433.5 889.6 L433.9 888.1 L434.3 888.6 L434.7 886.4 L435.2 891.1 L435.6 900.6 L436.0 891.3 L436.5 889.9 L436.9 890.4 L437.3 892.7 L437.7 894.5 L438.2 894.6 L438.6 899.1 L439.0 894.2 L439.5 894.7 L439.9 899.3 L440.3 896.6 L440.7 897.7 L441.2 897.1 L441.6 894.4 L442.0 884.0 L442.5 894.7 L442.9 893.9 L443.3 892.2 L443.7 892.6 L444.2 888.3 L444.6 894.3 L445.0 896.9 L445.4 896.8 L445.9 902.6 L446.3 895.0 L446.7 901.1 L447.2 896.6 L447.6 891.7 L448.0 897.7 L448.4 898.0 L448.9 898.2 L449.3 890.2 L449.7 892.3 L450.2 901.9 L450.6 894.7 L451.0 891.3 L451.4 902.3 L451.9 910.9 L452.3 892.6 L452.7 894.1 L453.1 904.2 L453.6 895.7 L454.0 889.9 L454.4 903.1 L454.9 894.1 L455.3 892.0 L455.7 894.0 L456.1 897.8 L456.6 895.1 L457.0 898.8 L457.4 896.5 L457.9 897.0 L458.3 898.0 L458.7 894.3 L459.1 890.6 L459.6 889.1 L460.0 890.2 L460.4 885.4 L460.9 895.5 L461.3 894.9 L461.7 894.0 L462.1 889.2 L462.6 901.5" stroke="#0c9e0c" stroke-width="1.6"/>
</g>
<rect x="124.4" y="751.2" width="48.4" height="189.2" fill="none" stroke="#2a1cff" stroke-width="1.3" stroke-dasharray="19.8 9.1"/>
<rect x="225.3" y="761.9" width="57.2" height="188.0" fill="none" stroke="#ff2020" stroke-width="1.3" stroke-dasharray="19.8 9.1"/>
<rect x="77.7" y="738.2" width="384.6" height="226.4" fill="none" stroke="#000" stroke-width="1.2"/>
<line x1="103.3" y1="964.6" x2="103.3" y2="958.4" stroke="#000" stroke-width="1.4"/>
<text x="102.1" y="990.7" font-size="21.3" text-anchor="middle">-20</text>
<line x1="149.7" y1="964.6" x2="149.7" y2="958.4" stroke="#000" stroke-width="1.4"/>
<text x="148.9" y="990.7" font-size="21.3" text-anchor="middle">0</text>
<line x1="196.0" y1="964.6" x2="196.0" y2="958.4" stroke="#000" stroke-width="1.4"/>
<text x="195.2" y="990.7" font-size="21.3" text-anchor="middle">20</text>
<line x1="242.4" y1="964.6" x2="242.4" y2="958.4" stroke="#000" stroke-width="1.4"/>
<text x="241.6" y="990.7" font-size="21.3" text-anchor="middle">40</text>
<line x1="288.8" y1="964.6" x2="288.8" y2="958.4" stroke="#000" stroke-width="1.4"/>
<text x="287.9" y="990.7" font-size="21.3" text-anchor="middle">60</text>
<line x1="335.1" y1="964.6" x2="335.1" y2="958.4" stroke="#000" stroke-width="1.4"/>
<text x="334.3" y="990.7" font-size="21.3" text-anchor="middle">80</text>
<line x1="381.4" y1="964.6" x2="381.4" y2="958.4" stroke="#000" stroke-width="1.4"/>
<text x="380.6" y="990.7" font-size="21.3" text-anchor="middle">100</text>
<line x1="427.8" y1="964.6" x2="427.8" y2="958.4" stroke="#000" stroke-width="1.4"/>
<text x="427.0" y="990.7" font-size="21.3" text-anchor="middle">120</text>
<text x="65.3" y="972.1" font-size="21.3" text-anchor="end">-10</text>
<line x1="77.7" y1="914.3" x2="84.7" y2="914.3" stroke="#000" stroke-width="1.4"/>
<text x="65.3" y="921.8" font-size="21.3" text-anchor="end">0</text>
<line x1="77.7" y1="864.0" x2="84.7" y2="864.0" stroke="#000" stroke-width="1.4"/>
<text x="65.3" y="871.5" font-size="21.3" text-anchor="end">10</text>
<line x1="77.7" y1="813.7" x2="84.7" y2="813.7" stroke="#000" stroke-width="1.4"/>
<text x="65.3" y="821.2" font-size="21.3" text-anchor="end">20</text>
<line x1="77.7" y1="763.4" x2="84.7" y2="763.4" stroke="#000" stroke-width="1.4"/>
<text x="65.3" y="770.9" font-size="21.3" text-anchor="end">30</text>
<line x1="125.8" y1="738.2" x2="125.8" y2="744.2" stroke="#ff1010" stroke-width="1.4"/>
<line x1="173.8" y1="738.2" x2="173.8" y2="744.2" stroke="#ff1010" stroke-width="1.4"/>
<line x1="221.8" y1="738.2" x2="221.8" y2="744.2" stroke="#ff1010" stroke-width="1.4"/>
<line x1="269.8" y1="738.2" x2="269.8" y2="744.2" stroke="#ff1010" stroke-width="1.4"/>
<line x1="317.8" y1="738.2" x2="317.8" y2="744.2" stroke="#ff1010" stroke-width="1.4"/>
<line x1="365.8" y1="738.2" x2="365.8" y2="744.2" stroke="#ff1010" stroke-width="1.4"/>
<line x1="413.8" y1="738.2" x2="413.8" y2="744.2" stroke="#ff1010" stroke-width="1.4"/>
<text x="84.6" y="726.0" font-size="21.3" text-anchor="middle" fill="#ff1010">16</text>
<text x="176.4" y="726.0" font-size="21.3" text-anchor="middle" fill="#ff1010">18</text>
<text x="267.0" y="726.0" font-size="21.3" text-anchor="middle" fill="#ff1010">20</text>
<text x="359.5" y="726.0" font-size="21.3" text-anchor="middle" fill="#ff1010">22</text>
<text x="451.5" y="726.0" font-size="21.3" text-anchor="middle" fill="#ff1010">24</text>
<text x="267" y="693.5" font-size="21.3" text-anchor="middle" fill="#ff1010">Temperature (&#176;C)</text>
<text x="268.5" y="1020.4" font-size="21" text-anchor="middle">Detuning (GHz)</text>
<text transform="translate(17.1 852.2) rotate(-90)" font-size="21.3" text-anchor="middle">C x 100</text>
<text x="450.5" y="766" font-size="21.3" text-anchor="end">Filtered</text>
<text x="450.5" y="792" font-size="21.3" text-anchor="end" fill="#0c9e0c">Unfiltered</text>
<line x1="294.3" y1="788.5" x2="495.7" y2="855.7" stroke="#ffb0b0" stroke-width="1"/>
<line x1="294.3" y1="788.5" x2="495.7" y2="855.7" stroke="#000" stroke-width="1.1" stroke-dasharray="19.8 7.5"/>
<rect x="495.9" y="779.6" width="186.8" height="185.7" fill="#fff" stroke="#ff2020" stroke-width="1.3" stroke-dasharray="19.8 9.1"/>
<path d="M495.7 910.0 L497.5 900.0 L500.0 906.4 L502.1 918.9 L504.3 899.3 L506.4 910.0 L508.2 938.6 L510.0 917.1 L512.1 899.3 L513.6 913.6 L516.4 910.0 L518.2 918.9 L520.0 906.4 L521.8 922.5 L523.6 906.4 L525.4 892.1 L527.1 906.4 L529.6 895.7 L531.4 906.4 L533.2 913.6 L535.0 895.7 L536.8 888.6 L538.6 910.0 L540.4 918.9 L542.9 902.9 L545.0 899.3 L547.5 851.1 L549.3 881.4 L551.4 888.6 L552.9 906.4 L554.6 913.6 L556.4 899.3 L558.2 917.1 L560.0 906.4 L561.8 924.3 L563.6 910.0 L566.1 902.9 L568.2 895.7 L570.7 899.3 L573.2 915.4 L575.0 876.1 L576.8 877.9 L578.6 845.7 L580.4 815.4 L581.8 813.6 L583.2 790.4 L584.6 787.5 L586.1 793.9 L587.5 820.7 L589.3 845.7 L591.1 860.0 L592.9 870.7 L594.3 851.1 L595.7 874.3 L597.9 902.9 L600.0 906.4 L602.1 915.4 L604.3 911.8 L606.4 922.5 L608.6 942.1 L610.7 956.4 L612.1 952.9 L613.6 931.4 L615.0 917.1 L617.1 915.4 L620.0 910.0 L622.5 906.4 L625.0 902.9 L627.1 888.6 L628.9 874.3 L630.4 860.0 L632.1 881.4 L633.9 895.7 L635.7 920.7 L637.5 938.6 L639.6 949.3 L641.4 931.4 L642.9 917.1 L645.0 910.0 L647.1 913.6 L649.3 933.2 L651.4 910.0 L653.6 895.7 L655.7 892.1 L657.9 895.7 L659.3 892.1 L660.7 910.0 L662.9 929.6 L664.3 917.1 L666.4 924.3 L668.6 902.9 L670.7 883.2 L672.1 895.7 L673.6 885.0 L675.7 899.3 L677.9 906.4 L680.0 922.5 L682.1 911.8 L683.6 910.0" fill="none" stroke="#000" stroke-width="1.6" stroke-linejoin="round"/>
<line x1="495.9" y1="824.3" x2="504.4" y2="824.3" stroke="#000" stroke-width="1.4"/>
<text x="493.5" y="831.8" font-size="21.3" text-anchor="end">20</text>
<line x1="495.9" y1="876.1" x2="504.4" y2="876.1" stroke="#000" stroke-width="1.4"/>
<text x="493.5" y="883.6" font-size="21.3" text-anchor="end">10</text>
<line x1="495.9" y1="927.9" x2="504.4" y2="927.9" stroke="#000" stroke-width="1.4"/>
<text x="493.5" y="935.4" font-size="21.3" text-anchor="end">0</text>
<line x1="552.1" y1="965.3" x2="552.1" y2="958.1" stroke="#000" stroke-width="1.4"/>
<text x="552.1" y="989.3" font-size="21.3" text-anchor="middle">40</text>
<line x1="627.1" y1="965.3" x2="627.1" y2="958.1" stroke="#000" stroke-width="1.4"/>
<text x="627.1" y="989.3" font-size="21.3" text-anchor="middle">50</text>
<text x="586.8" y="1020.7" font-size="21" text-anchor="middle">Detuning (GHz)</text>
<text x="540.4" y="690.4" font-size="21.3" fill="#000" text-anchor="start">S<tspan font-size="14.5" dy="4.6">u</tspan><tspan dy="-4.6"> (3,1,<tspan class="se">&#177;</tspan>)</tspan></text>
<text x="482.2" y="745.7" font-size="21.3" fill="#000" text-anchor="start">S<tspan font-size="14.5" dy="4.6">u</tspan><tspan dy="-4.6"> (3,1,-)</tspan></text>
<text x="591.1" y="745.7" font-size="21.3" fill="#000" text-anchor="start">S<tspan font-size="14.5" dy="4.6">u</tspan><tspan dy="-4.6"> (3,1,+)</tspan></text>
<line x1="584.3" y1="702.1" x2="584.3" y2="778.4" stroke="#000" stroke-width="0.9"/><path d="M584.3 781.4 l-2.4 -5.2 l2.4 1.4 l2.4 -1.4 z" fill="#000"/>
<line x1="545.0" y1="755.7" x2="545.0" y2="819.5" stroke="#000" stroke-width="0.9"/><path d="M545.0 822.5 l-2.4 -5.2 l2.4 1.4 l2.4 -1.4 z" fill="#000"/>
<line x1="628.9" y1="764.6" x2="628.9" y2="829.5" stroke="#000" stroke-width="0.9"/><path d="M628.9 832.5 l-2.4 -5.2 l2.4 1.4 l2.4 -1.4 z" fill="#000"/>
</svg></body></html>
